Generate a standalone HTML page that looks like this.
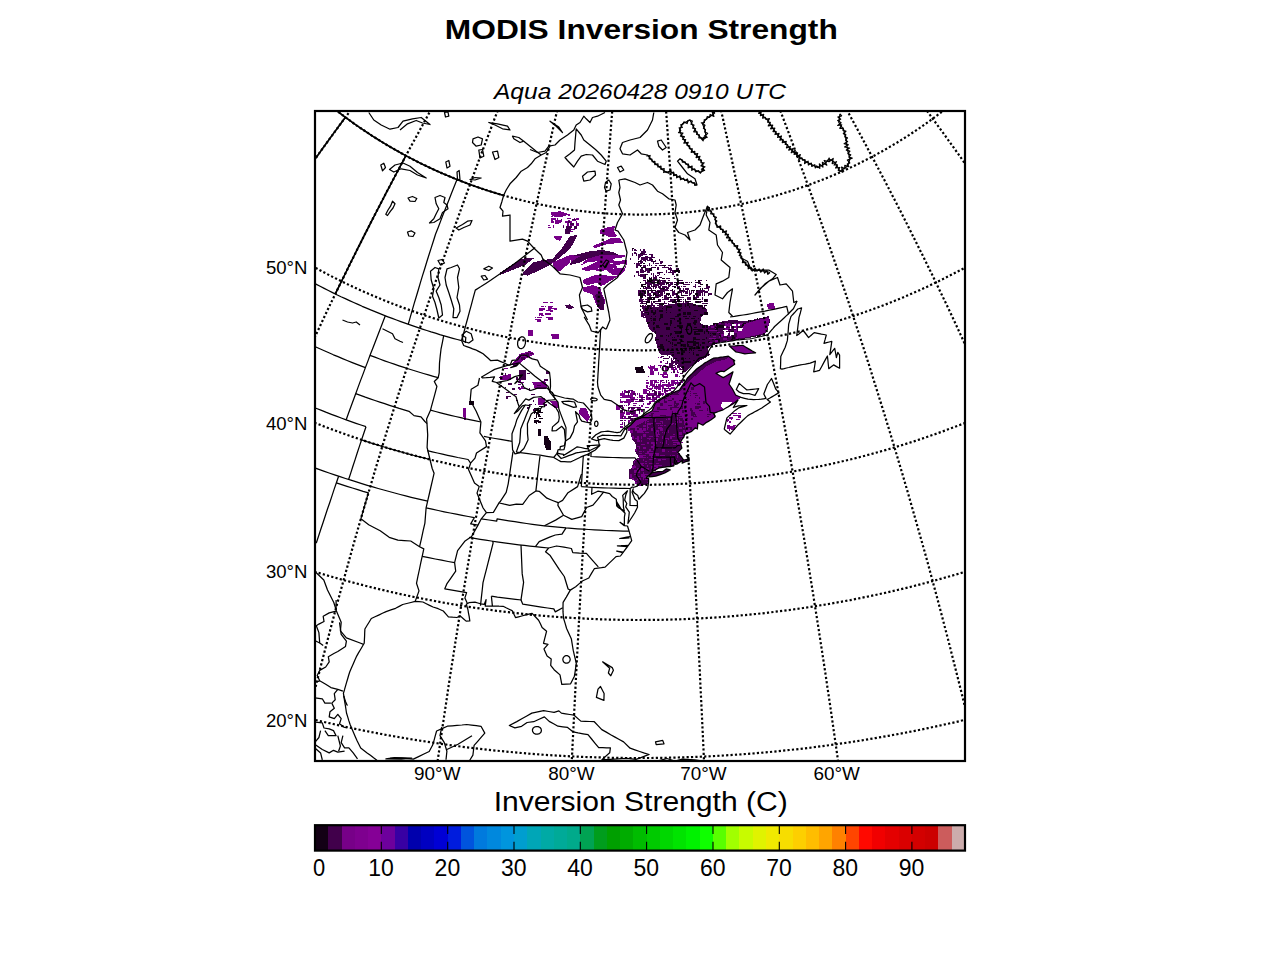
<!DOCTYPE html><html><head><meta charset="utf-8"><title>MODIS Inversion Strength</title><style>html,body{margin:0;padding:0;background:#fff}svg{display:block}text{font-family:"Liberation Sans",sans-serif;fill:#000}</style></head><body>
<svg width="1280" height="960" viewBox="0 0 1280 960">
<rect width="1280" height="960" fill="#fff"/>
<defs><clipPath id="ax"><rect x="315" y="111" width="650" height="650"/></clipPath></defs>
<g clip-path="url(#ax)">
<g stroke="none" shape-rendering="crispEdges">
<path fill="#770088" d="M630,430L631.9,438.8L636.3,445L635,451.3L638.8,457.5L633.8,460L631.9,467.5L628.8,470L629.4,478.8L633.8,480L636.3,483.8L638.8,486.5L648.3,484.1L648.6,482.1L648.6,478.4L646,478.3L648.6,475.3L650.6,474L653.1,471L656.6,469.2L659.6,467.8L667.7,466.7L670.1,466.7L673.9,465.8L674.5,459.9L675.4,464.4L677.4,463.8L679.4,462.4L682.3,460.4L682.2,463.2L685.6,461.7L689.1,460.9L688.9,457.2L686.3,455.7L688.5,459.2L683.5,459.9L681.9,457.5L677.8,452.4L681.9,448.1L680.4,442.5L682.4,438.7L683.8,437.3L684.6,434.5L691.7,431.4L695.4,427.8L697.4,429L697.9,422.9L702.9,425.2L705.6,422.9L711.1,419.8L715.2,416.7L713.9,413.2L723.1,409.8L732.9,403.9L738.1,399.8L741.1,397.4L735.6,395L732.5,389L729,384L733,371.9L723.2,377.6L715.9,373.3L721.1,371.1L723.9,371.7L734.7,364.2L733.2,359.6L734.7,360.8L728.3,356.2L713.4,358.2L705,362.8L696.6,369L687.7,377.7L679.4,390L673.5,392.7L661.3,399.2L655.3,403.3L652.2,410.8L647,413.5L641.3,417.6L635.6,419.6L630.8,424.9L625.9,428.2Z"/>
<path fill="#41004b" d="M648.6,477L655.7,476.2L664.8,473L670.2,469.9L666.2,468.9L662.7,471.5L658,471.6L652.1,472.6L650.6,474Z"/>
<path fill="#41004b" d="M630,430L631.9,438.8L636.3,445L635,451.3L638.8,457.5L633.8,460L631.9,467.5L628.8,470L629.4,478.8L633.8,480L636.3,483.8L638.8,486.5L648.3,484.1L648.6,482.1L648.6,478.4L646,478.3L648.6,475.3L650.6,474L653.1,471L656.6,469.2L659.6,467.8L667.7,466.7L670.1,466.7L673.9,465.8L674.5,459.9L675.4,464.4L677.4,463.8L679.4,462.4L682.3,460.4L682.2,463.2L685.6,461.7L689.1,460.9L688.9,457.2L686.3,455.7L688.5,459.2L683.5,459.9L681.9,457.5L677.8,452.4L681.9,448.1L680.4,442.5L682.4,438.7L685.9,431.1L683.3,419.1L678.1,411.3L671.7,417L654.2,417.5L644.2,421.6L632.7,428.3L625.9,428.2Z"/>
<path fill="#770088" d="M677.2,411.3h2.5v2.5h-2.5zM677.2,415.1h3.8v1.2h-3.8zM654.4,417h1.2v1.2h-1.2zM662,417h2.5v1.2h-2.5zM665.8,417h2.5v1.2h-2.5zM667.7,417h2.5v2.5h-2.5zM675.3,417h2.5v2.5h-2.5zM679.1,417h2.5v1.2h-2.5zM654.4,418.9h1.2v2.5h-1.2zM665.8,418.9h1.2v1.2h-1.2zM679.1,418.9h1.2v2.5h-1.2zM644.9,420.8h1.2v2.5h-1.2zM646.8,420.8h2.5v1.2h-2.5zM654.4,420.8h1.2v1.2h-1.2zM660.1,420.8h2.5v1.2h-2.5zM662,420.8h1.2v2.5h-1.2zM675.3,420.8h1.2v1.2h-1.2zM677.2,420.8h1.2v2.5h-1.2zM679.1,420.8h2.5v2.5h-2.5zM644.9,422.7h1.2v1.2h-1.2zM646.8,422.7h3.8v2.5h-3.8zM648.7,422.7h3.8v1.2h-3.8zM656.3,422.7h3.8v1.2h-3.8zM660.1,422.7h1.2v1.2h-1.2zM662,422.7h1.2v1.2h-1.2zM669.6,422.7h3.8v2.5h-3.8zM671.5,422.7h2.5v1.2h-2.5zM675.3,422.7h1.2v2.5h-1.2zM643,424.6h2.5v2.5h-2.5zM646.8,424.6h1.2v2.5h-1.2zM658.2,424.6h1.2v1.2h-1.2zM660.1,424.6h2.5v1.2h-2.5zM663.9,424.6h2.5v1.2h-2.5zM633.5,426.5h3.8v1.2h-3.8zM637.3,426.5h1.2v1.2h-1.2zM646.8,426.5h2.5v1.2h-2.5zM652.5,426.5h1.2v1.2h-1.2zM658.2,426.5h3.8v2.5h-3.8zM660.1,426.5h1.2v1.2h-1.2zM679.1,426.5h2.5v2.5h-2.5zM682.9,426.5h1.2v1.2h-1.2zM627.8,428.4h2.5v2.5h-2.5zM635.4,428.4h1.2v2.5h-1.2zM639.2,428.4h2.5v2.5h-2.5zM641.1,428.4h1.2v1.2h-1.2zM643,428.4h2.5v2.5h-2.5zM646.8,428.4h1.2v1.2h-1.2zM650.6,428.4h2.5v2.5h-2.5zM660.1,428.4h2.5v2.5h-2.5zM677.2,428.4h1.2v2.5h-1.2zM629.7,430.3h2.5v2.5h-2.5zM631.6,430.3h1.2v2.5h-1.2zM637.3,430.3h2.5v2.5h-2.5zM639.2,430.3h3.8v1.2h-3.8zM656.3,430.3h2.5v1.2h-2.5zM658.2,430.3h1.2v1.2h-1.2zM667.7,430.3h1.2v2.5h-1.2zM682.9,430.3h2.5v2.5h-2.5zM637.3,432.2h3.8v1.2h-3.8zM641.1,432.2h2.5v1.2h-2.5zM644.9,432.2h3.8v1.2h-3.8zM654.4,432.2h2.5v2.5h-2.5zM658.2,432.2h1.2v2.5h-1.2zM662,432.2h1.2v1.2h-1.2zM663.9,432.2h1.2v2.5h-1.2zM665.8,432.2h1.2v1.2h-1.2zM679.1,432.2h2.5v2.5h-2.5zM643,434.1h2.5v2.5h-2.5zM654.4,434.1h3.8v2.5h-3.8zM656.3,434.1h3.8v1.2h-3.8zM673.4,434.1h1.2v1.2h-1.2zM631.6,436h2.5v2.5h-2.5zM637.3,436h1.2v2.5h-1.2zM641.1,436h1.2v2.5h-1.2zM648.7,436h3.8v1.2h-3.8zM658.2,436h1.2v1.2h-1.2zM662,436h1.2v2.5h-1.2zM669.6,436h2.5v2.5h-2.5zM671.5,436h3.8v1.2h-3.8zM679.1,436h3.8v1.2h-3.8zM635.4,437.9h2.5v1.2h-2.5zM637.3,437.9h1.2v2.5h-1.2zM646.8,437.9h3.8v1.2h-3.8zM648.7,437.9h1.2v2.5h-1.2zM654.4,437.9h1.2v1.2h-1.2zM656.3,437.9h1.2v2.5h-1.2zM663.9,437.9h3.8v1.2h-3.8zM667.7,437.9h1.2v2.5h-1.2zM681,437.9h1.2v1.2h-1.2zM637.3,439.8h2.5v2.5h-2.5zM639.2,439.8h1.2v1.2h-1.2zM641.1,439.8h1.2v2.5h-1.2zM656.3,439.8h1.2v1.2h-1.2zM665.8,439.8h1.2v2.5h-1.2zM671.5,439.8h3.8v1.2h-3.8zM675.3,439.8h2.5v1.2h-2.5zM679.1,439.8h2.5v1.2h-2.5zM646.8,441.7h2.5v2.5h-2.5zM650.6,441.7h3.8v2.5h-3.8zM654.4,441.7h2.5v2.5h-2.5zM660.1,441.7h1.2v1.2h-1.2zM662,441.7h1.2v2.5h-1.2zM665.8,441.7h1.2v2.5h-1.2zM673.4,441.7h3.8v1.2h-3.8zM677.2,441.7h2.5v2.5h-2.5zM679.1,441.7h3.8v1.2h-3.8zM641.1,443.6h3.8v1.2h-3.8zM652.5,443.6h2.5v2.5h-2.5zM667.7,443.6h1.2v1.2h-1.2zM673.4,443.6h2.5v1.2h-2.5zM677.2,443.6h3.8v1.2h-3.8zM637.3,445.5h2.5v1.2h-2.5zM650.6,445.5h3.8v2.5h-3.8zM675.3,445.5h1.2v1.2h-1.2zM639.2,447.4h1.2v1.2h-1.2zM643,447.4h2.5v1.2h-2.5zM652.5,447.4h1.2v2.5h-1.2zM658.2,447.4h2.5v1.2h-2.5zM671.5,447.4h1.2v1.2h-1.2zM635.4,449.3h1.2v1.2h-1.2zM648.7,449.3h2.5v2.5h-2.5zM662,449.3h2.5v2.5h-2.5zM663.9,449.3h1.2v1.2h-1.2zM639.2,451.2h2.5v1.2h-2.5zM643,451.2h1.2v1.2h-1.2zM646.8,451.2h2.5v2.5h-2.5zM648.7,451.2h3.8v1.2h-3.8zM667.7,451.2h1.2v1.2h-1.2zM671.5,451.2h1.2v1.2h-1.2zM673.4,451.2h2.5v1.2h-2.5zM639.2,453.1h2.5v1.2h-2.5zM641.1,453.1h1.2v1.2h-1.2zM644.9,453.1h2.5v1.2h-2.5zM648.7,453.1h3.8v2.5h-3.8zM652.5,453.1h2.5v1.2h-2.5zM654.4,453.1h3.8v1.2h-3.8zM656.3,453.1h2.5v2.5h-2.5zM677.2,453.1h2.5v1.2h-2.5zM639.2,455h3.8v2.5h-3.8zM641.1,455h2.5v1.2h-2.5zM643,455h2.5v1.2h-2.5zM650.6,455h1.2v2.5h-1.2zM660.1,455h3.8v1.2h-3.8zM663.9,455h1.2v1.2h-1.2zM669.6,455h1.2v1.2h-1.2zM671.5,455h3.8v1.2h-3.8zM677.2,455h1.2v2.5h-1.2zM641.1,456.9h2.5v1.2h-2.5zM643,456.9h2.5v1.2h-2.5zM646.8,456.9h1.2v1.2h-1.2zM650.6,456.9h2.5v1.2h-2.5zM652.5,456.9h1.2v1.2h-1.2zM654.4,456.9h1.2v2.5h-1.2zM662,456.9h2.5v1.2h-2.5zM663.9,456.9h2.5v1.2h-2.5zM635.4,458.8h1.2v2.5h-1.2zM637.3,458.8h1.2v1.2h-1.2zM643,458.8h1.2v2.5h-1.2zM648.7,458.8h3.8v1.2h-3.8zM658.2,458.8h2.5v2.5h-2.5zM662,458.8h3.8v1.2h-3.8zM675.3,458.8h1.2v2.5h-1.2zM684.8,458.8h3.8v1.2h-3.8zM633.5,460.7h1.2v2.5h-1.2zM644.9,460.7h2.5v1.2h-2.5zM677.2,460.7h2.5v1.2h-2.5zM679.1,460.7h1.2v1.2h-1.2zM639.2,462.6h3.8v2.5h-3.8zM641.1,462.6h2.5v1.2h-2.5zM644.9,462.6h2.5v1.2h-2.5zM648.7,462.6h3.8v1.2h-3.8zM652.5,462.6h1.2v2.5h-1.2zM656.3,462.6h2.5v1.2h-2.5zM671.5,462.6h2.5v2.5h-2.5zM633.5,464.5h1.2v1.2h-1.2zM641.1,464.5h2.5v1.2h-2.5zM646.8,464.5h1.2v2.5h-1.2zM654.4,464.5h3.8v2.5h-3.8zM658.2,464.5h3.8v1.2h-3.8zM631.6,466.4h2.5v2.5h-2.5zM633.5,466.4h2.5v1.2h-2.5zM650.6,466.4h2.5v2.5h-2.5zM656.3,466.4h1.2v1.2h-1.2zM637.3,468.3h1.2v1.2h-1.2zM641.1,468.3h2.5v2.5h-2.5zM644.9,468.3h3.8v1.2h-3.8zM654.4,468.3h1.2v2.5h-1.2zM633.5,470.2h2.5v2.5h-2.5zM635.4,470.2h1.2v2.5h-1.2zM639.2,470.2h1.2v2.5h-1.2zM637.3,472.1h1.2v1.2h-1.2zM643,472.1h1.2v2.5h-1.2zM629.7,474h2.5v2.5h-2.5zM633.5,474h2.5v1.2h-2.5zM641.1,474h3.8v2.5h-3.8zM644.9,474h3.8v1.2h-3.8zM629.7,475.9h2.5v2.5h-2.5zM637.3,475.9h2.5v1.2h-2.5zM643,475.9h2.5v2.5h-2.5zM631.6,477.8h2.5v2.5h-2.5zM637.3,477.8h3.8v2.5h-3.8zM643,477.8h1.2v2.5h-1.2zM644.9,477.8h3.8v2.5h-3.8zM646.8,477.8h2.5v2.5h-2.5zM633.5,479.7h3.8v1.2h-3.8zM635.4,481.6h1.2v2.5h-1.2zM646.8,481.6h2.5v1.2h-2.5zM637.3,483.5h3.8v2.5h-3.8z"/>
<path fill="#41004b" d="M691.4,387.3h2.5v2.5h-2.5zM687.6,391.1h1.2v1.2h-1.2zM689.5,391.1h1.2v1.2h-1.2zM685.7,393h1.2v1.2h-1.2zM689.5,393h1.2v1.2h-1.2zM693.3,393h3.8v1.2h-3.8zM689.5,394.9h1.2v1.2h-1.2zM695.2,394.9h2.5v1.2h-2.5zM685.7,396.8h1.2v1.2h-1.2zM695.2,396.8h1.2v1.2h-1.2zM699,396.8h1.2v2.5h-1.2zM685.7,398.7h1.2v1.2h-1.2zM687.6,398.7h1.2v1.2h-1.2zM683.8,400.6h2.5v1.2h-2.5zM685.7,400.6h1.2v2.5h-1.2zM699,400.6h1.2v1.2h-1.2zM702.8,400.6h2.5v2.5h-2.5zM695.2,402.5h1.2v1.2h-1.2zM697.1,402.5h2.5v2.5h-2.5zM702.8,402.5h2.5v1.2h-2.5zM681.9,406.3h1.2v1.2h-1.2zM683.8,406.3h2.5v2.5h-2.5zM695.2,406.3h3.8v2.5h-3.8zM697.1,406.3h3.8v1.2h-3.8zM680,408.2h2.5v1.2h-2.5zM689.5,408.2h2.5v2.5h-2.5zM706.6,408.2h1.2v2.5h-1.2zM681.9,410.1h2.5v2.5h-2.5zM691.4,410.1h1.2v2.5h-1.2zM699,410.1h3.8v1.2h-3.8zM681.9,412h1.2v1.2h-1.2zM691.4,412h3.8v2.5h-3.8zM685.7,413.9h2.5v2.5h-2.5zM691.4,413.9h2.5v2.5h-2.5zM695.2,413.9h1.2v2.5h-1.2zM706.6,413.9h3.8v1.2h-3.8zM708.5,413.9h2.5v1.2h-2.5zM693.3,415.8h3.8v1.2h-3.8zM706.6,415.8h2.5v1.2h-2.5zM685.7,417.7h2.5v1.2h-2.5zM691.4,417.7h1.2v2.5h-1.2zM685.7,421.5h1.2v1.2h-1.2zM685.7,427.2h3.8v1.2h-3.8zM687.6,427.2h3.8v1.2h-3.8zM689.5,427.2h2.5v2.5h-2.5z"/>
<path fill="#41004b" d="M669.8,393.8h3.8v1.2h-3.8zM673.6,393.8h2.5v1.2h-2.5zM677.4,393.8h1.2v1.2h-1.2zM666,395.7h2.5v1.2h-2.5zM669.8,395.7h1.2v1.2h-1.2zM664.1,397.6h2.5v2.5h-2.5zM671.7,397.6h2.5v2.5h-2.5zM664.1,399.5h1.2v2.5h-1.2zM667.9,399.5h3.8v1.2h-3.8zM679.3,399.5h3.8v1.2h-3.8zM658.4,401.4h1.2v1.2h-1.2zM664.1,401.4h2.5v1.2h-2.5zM673.6,401.4h2.5v2.5h-2.5zM660.3,403.3h2.5v2.5h-2.5zM673.6,403.3h1.2v1.2h-1.2zM675.5,403.3h3.8v1.2h-3.8zM667.9,405.2h3.8v1.2h-3.8zM669.8,405.2h2.5v1.2h-2.5zM673.6,405.2h3.8v2.5h-3.8zM675.5,405.2h2.5v1.2h-2.5zM656.5,407.1h3.8v2.5h-3.8zM669.8,407.1h2.5v2.5h-2.5zM671.7,407.1h3.8v1.2h-3.8zM677.4,407.1h1.2v1.2h-1.2zM660.3,409h3.8v1.2h-3.8zM664.1,409h2.5v1.2h-2.5zM652.7,410.9h3.8v1.2h-3.8zM656.5,410.9h2.5v1.2h-2.5zM671.7,410.9h1.2v2.5h-1.2zM650.8,412.8h2.5v2.5h-2.5zM652.7,412.8h1.2v1.2h-1.2zM648.9,414.7h2.5v1.2h-2.5zM650.8,414.7h2.5v2.5h-2.5zM660.3,414.7h2.5v1.2h-2.5zM662.2,414.7h3.8v1.2h-3.8zM645.1,416.6h3.8v1.2h-3.8zM647,416.6h2.5v1.2h-2.5z"/>
<path fill="#41004b" d="M728.3,356.2L713.4,358.2L705,362.8L696.6,369L687.7,377.7L679.4,390L673.5,392.7L676.4,395.2L684.2,386.7L691,379.5L699.5,372.1L707.1,366L714.7,361.9L726.9,359.1Z"/>
<path fill="#fff" d="M673.9,392.2L679.3,389.4L687.7,377L696.5,368.3L704.9,362.2L713.3,357.5L728.2,355.5L735.2,354.6L737.7,340.6L712.8,344.4L705.6,356.7L698.8,358.6L686.2,374L679.5,384.1L674.4,391.3Z"/>
<path fill="#41004b" d="M641.2,306.2L657.5,306.9L672.5,303.8L685,302.5L695,305L705,306.9L707.5,311.2L701.2,317.5L700,323.1L707.5,326.2L722.5,321.2L732.5,320L745,321.2L757.5,318.8L768.8,316.2L770,321.2L767.5,330L763.8,335L751.2,337.5L736.2,340L720,342.5L710,346.2L707.5,350L710,355L701.2,360L690,367.5L685,372.5L680,366.2L675,360L670,355L661.2,355L657.5,347.5L655,338.8L656.2,333.8L650,330L646.2,321.2L645,315Z"/>
<path fill="#130015" d="M677.3,302.5h2.5v1.2h-2.5zM686.8,302.5h3.8v1.2h-3.8zM677.3,304.4h2.5v1.2h-2.5zM679.2,304.4h2.5v2.5h-2.5zM684.9,304.4h1.2v2.5h-1.2zM686.8,304.4h2.5v1.2h-2.5zM692.5,304.4h1.2v1.2h-1.2zM694.4,304.4h1.2v1.2h-1.2zM646.9,306.3h2.5v2.5h-2.5zM665.9,306.3h2.5v1.2h-2.5zM667.8,306.3h3.8v1.2h-3.8zM688.7,306.3h1.2v1.2h-1.2zM702,306.3h1.2v1.2h-1.2zM645,308.2h2.5v2.5h-2.5zM650.7,308.2h1.2v1.2h-1.2zM662.1,308.2h1.2v1.2h-1.2zM665.9,308.2h1.2v2.5h-1.2zM681.1,308.2h1.2v1.2h-1.2zM702,308.2h3.8v1.2h-3.8zM694.4,310.1h3.8v1.2h-3.8zM645,312h2.5v1.2h-2.5zM646.9,312h2.5v2.5h-2.5zM652.6,312h2.5v2.5h-2.5zM665.9,312h1.2v1.2h-1.2zM669.7,312h1.2v1.2h-1.2zM683,312h2.5v2.5h-2.5zM686.8,312h3.8v2.5h-3.8zM688.7,312h2.5v2.5h-2.5zM703.9,312h3.8v2.5h-3.8zM646.9,313.9h2.5v1.2h-2.5zM660.2,313.9h2.5v2.5h-2.5zM677.3,313.9h1.2v2.5h-1.2zM700.1,313.9h2.5v2.5h-2.5zM650.7,315.8h1.2v1.2h-1.2zM660.2,315.8h2.5v2.5h-2.5zM662.1,315.8h1.2v1.2h-1.2zM675.4,315.8h1.2v1.2h-1.2zM677.3,315.8h1.2v1.2h-1.2zM683,315.8h3.8v1.2h-3.8zM688.7,315.8h1.2v1.2h-1.2zM692.5,315.8h3.8v1.2h-3.8zM694.4,315.8h1.2v1.2h-1.2zM660.2,317.7h1.2v1.2h-1.2zM669.7,317.7h3.8v1.2h-3.8zM673.5,317.7h1.2v2.5h-1.2zM684.9,317.7h3.8v1.2h-3.8zM690.6,317.7h2.5v1.2h-2.5zM692.5,317.7h2.5v1.2h-2.5zM698.2,317.7h1.2v1.2h-1.2zM757.1,317.7h1.2v2.5h-1.2zM650.7,319.6h1.2v1.2h-1.2zM669.7,319.6h2.5v2.5h-2.5zM677.3,319.6h3.8v2.5h-3.8zM694.4,319.6h2.5v2.5h-2.5zM747.6,319.6h1.2v2.5h-1.2zM749.5,319.6h1.2v2.5h-1.2zM753.3,319.6h1.2v1.2h-1.2zM760.9,319.6h2.5v1.2h-2.5zM646.9,321.5h2.5v2.5h-2.5zM648.8,321.5h1.2v1.2h-1.2zM652.6,321.5h2.5v2.5h-2.5zM669.7,321.5h2.5v2.5h-2.5zM692.5,321.5h1.2v2.5h-1.2zM694.4,321.5h2.5v1.2h-2.5zM721,321.5h2.5v1.2h-2.5zM759,321.5h3.8v1.2h-3.8zM768.5,321.5h1.2v1.2h-1.2zM652.6,323.4h1.2v1.2h-1.2zM664,323.4h3.8v1.2h-3.8zM665.9,323.4h1.2v1.2h-1.2zM669.7,323.4h1.2v2.5h-1.2zM686.8,323.4h2.5v1.2h-2.5zM688.7,323.4h2.5v1.2h-2.5zM694.4,323.4h1.2v1.2h-1.2zM700.1,323.4h1.2v1.2h-1.2zM713.4,323.4h1.2v1.2h-1.2zM715.3,323.4h2.5v2.5h-2.5zM732.4,323.4h2.5v2.5h-2.5zM741.9,323.4h3.8v1.2h-3.8zM757.1,323.4h1.2v2.5h-1.2zM762.8,323.4h3.8v2.5h-3.8zM656.4,325.3h2.5v2.5h-2.5zM677.3,325.3h1.2v1.2h-1.2zM679.2,325.3h3.8v2.5h-3.8zM702,325.3h2.5v2.5h-2.5zM705.8,325.3h2.5v2.5h-2.5zM717.2,325.3h2.5v2.5h-2.5zM719.1,325.3h2.5v2.5h-2.5zM721,325.3h2.5v2.5h-2.5zM728.6,325.3h1.2v1.2h-1.2zM732.4,325.3h2.5v2.5h-2.5zM741.9,325.3h3.8v1.2h-3.8zM759,325.3h2.5v1.2h-2.5zM652.6,327.2h2.5v2.5h-2.5zM658.3,327.2h1.2v1.2h-1.2zM665.9,327.2h2.5v2.5h-2.5zM667.8,327.2h2.5v2.5h-2.5zM673.5,327.2h2.5v1.2h-2.5zM681.1,327.2h1.2v2.5h-1.2zM694.4,327.2h2.5v1.2h-2.5zM715.3,327.2h2.5v2.5h-2.5zM717.2,327.2h3.8v1.2h-3.8zM719.1,327.2h3.8v1.2h-3.8zM740,327.2h2.5v1.2h-2.5zM743.8,327.2h3.8v2.5h-3.8zM681.1,329.1h1.2v2.5h-1.2zM684.9,329.1h3.8v1.2h-3.8zM686.8,329.1h2.5v1.2h-2.5zM692.5,329.1h3.8v1.2h-3.8zM696.3,329.1h2.5v1.2h-2.5zM698.2,329.1h3.8v2.5h-3.8zM700.1,329.1h2.5v2.5h-2.5zM705.8,329.1h2.5v2.5h-2.5zM722.9,329.1h1.2v1.2h-1.2zM728.6,329.1h2.5v1.2h-2.5zM753.3,329.1h2.5v2.5h-2.5zM757.1,329.1h1.2v1.2h-1.2zM760.9,329.1h1.2v2.5h-1.2zM762.8,329.1h2.5v1.2h-2.5zM764.7,329.1h1.2v2.5h-1.2zM654.5,331h1.2v2.5h-1.2zM673.5,331h3.8v1.2h-3.8zM675.4,331h2.5v2.5h-2.5zM677.3,331h3.8v2.5h-3.8zM694.4,331h1.2v2.5h-1.2zM696.3,331h3.8v1.2h-3.8zM703.9,331h1.2v2.5h-1.2zM705.8,331h2.5v1.2h-2.5zM707.7,331h1.2v2.5h-1.2zM717.2,331h1.2v1.2h-1.2zM724.8,331h1.2v2.5h-1.2zM728.6,331h1.2v1.2h-1.2zM730.5,331h1.2v1.2h-1.2zM732.4,331h1.2v2.5h-1.2zM753.3,331h2.5v2.5h-2.5zM669.7,332.9h2.5v2.5h-2.5zM686.8,332.9h2.5v1.2h-2.5zM688.7,332.9h1.2v1.2h-1.2zM694.4,332.9h1.2v2.5h-1.2zM696.3,332.9h3.8v2.5h-3.8zM709.6,332.9h1.2v1.2h-1.2zM711.5,332.9h1.2v1.2h-1.2zM713.4,332.9h2.5v2.5h-2.5zM719.1,332.9h1.2v1.2h-1.2zM751.4,332.9h2.5v2.5h-2.5zM762.8,332.9h2.5v2.5h-2.5zM660.2,334.8h2.5v2.5h-2.5zM665.9,334.8h1.2v1.2h-1.2zM667.8,334.8h1.2v2.5h-1.2zM669.7,334.8h1.2v1.2h-1.2zM677.3,334.8h1.2v2.5h-1.2zM681.1,334.8h2.5v2.5h-2.5zM709.6,334.8h1.2v1.2h-1.2zM719.1,334.8h2.5v2.5h-2.5zM732.4,334.8h1.2v2.5h-1.2zM741.9,334.8h2.5v1.2h-2.5zM751.4,334.8h2.5v2.5h-2.5zM757.1,334.8h2.5v2.5h-2.5zM671.6,336.7h1.2v1.2h-1.2zM673.5,336.7h1.2v1.2h-1.2zM681.1,336.7h2.5v1.2h-2.5zM692.5,336.7h3.8v2.5h-3.8zM705.8,336.7h1.2v2.5h-1.2zM726.7,336.7h1.2v1.2h-1.2zM732.4,336.7h2.5v2.5h-2.5zM736.2,336.7h2.5v1.2h-2.5zM654.5,338.6h1.2v2.5h-1.2zM656.4,338.6h2.5v1.2h-2.5zM665.9,338.6h1.2v2.5h-1.2zM671.6,338.6h3.8v2.5h-3.8zM675.4,338.6h1.2v2.5h-1.2zM679.2,338.6h2.5v1.2h-2.5zM692.5,338.6h1.2v2.5h-1.2zM694.4,338.6h1.2v1.2h-1.2zM696.3,338.6h3.8v1.2h-3.8zM702,338.6h2.5v1.2h-2.5zM711.5,338.6h2.5v1.2h-2.5zM715.3,338.6h2.5v2.5h-2.5zM717.2,338.6h2.5v2.5h-2.5zM730.5,338.6h2.5v1.2h-2.5zM736.2,338.6h2.5v1.2h-2.5zM667.8,340.5h2.5v1.2h-2.5zM681.1,340.5h2.5v1.2h-2.5zM686.8,340.5h3.8v2.5h-3.8zM690.6,340.5h3.8v2.5h-3.8zM694.4,340.5h1.2v2.5h-1.2zM707.7,340.5h2.5v2.5h-2.5zM717.2,340.5h2.5v1.2h-2.5zM724.8,340.5h1.2v1.2h-1.2zM669.7,342.4h1.2v1.2h-1.2zM671.6,342.4h1.2v2.5h-1.2zM677.3,342.4h3.8v1.2h-3.8zM686.8,342.4h1.2v1.2h-1.2zM692.5,342.4h3.8v1.2h-3.8zM696.3,342.4h1.2v1.2h-1.2zM698.2,342.4h1.2v1.2h-1.2zM702,342.4h2.5v1.2h-2.5zM713.4,342.4h3.8v1.2h-3.8zM660.2,344.3h2.5v1.2h-2.5zM673.5,344.3h3.8v1.2h-3.8zM681.1,344.3h1.2v1.2h-1.2zM683,344.3h2.5v2.5h-2.5zM686.8,344.3h2.5v2.5h-2.5zM692.5,344.3h3.8v1.2h-3.8zM698.2,344.3h1.2v2.5h-1.2zM700.1,344.3h1.2v1.2h-1.2zM658.3,346.2h3.8v1.2h-3.8zM660.2,346.2h3.8v2.5h-3.8zM671.6,346.2h1.2v1.2h-1.2zM683,346.2h2.5v1.2h-2.5zM684.9,346.2h1.2v1.2h-1.2zM688.7,346.2h3.8v1.2h-3.8zM690.6,346.2h2.5v2.5h-2.5zM696.3,346.2h2.5v2.5h-2.5zM683,348.1h3.8v1.2h-3.8zM690.6,348.1h1.2v2.5h-1.2zM692.5,348.1h1.2v1.2h-1.2zM665.9,350h2.5v1.2h-2.5zM669.7,350h2.5v1.2h-2.5zM671.6,350h2.5v1.2h-2.5zM677.3,350h1.2v1.2h-1.2zM681.1,350h3.8v2.5h-3.8zM683,350h2.5v1.2h-2.5zM684.9,350h2.5v1.2h-2.5zM688.7,350h1.2v1.2h-1.2zM692.5,350h1.2v1.2h-1.2zM698.2,350h3.8v1.2h-3.8zM660.2,351.9h2.5v1.2h-2.5zM669.7,351.9h3.8v1.2h-3.8zM677.3,351.9h2.5v2.5h-2.5zM688.7,351.9h1.2v1.2h-1.2zM692.5,351.9h1.2v2.5h-1.2zM671.6,353.8h2.5v2.5h-2.5zM692.5,353.8h1.2v1.2h-1.2zM696.3,353.8h2.5v2.5h-2.5zM707.7,353.8h1.2v2.5h-1.2zM673.5,357.6h3.8v1.2h-3.8zM681.1,357.6h2.5v2.5h-2.5zM684.9,357.6h1.2v1.2h-1.2zM688.7,357.6h1.2v1.2h-1.2zM677.3,359.5h1.2v2.5h-1.2zM683,359.5h1.2v2.5h-1.2zM692.5,359.5h2.5v1.2h-2.5zM683,361.4h3.8v1.2h-3.8zM686.8,361.4h2.5v1.2h-2.5zM688.7,361.4h2.5v1.2h-2.5zM679.2,365.2h1.2v1.2h-1.2zM683,367.1h1.2v2.5h-1.2z"/>
<path fill="#770088" d="M737.5,332.5L745,323.8L757.5,320L768.8,317.5L769.4,322.5L766.2,332.5L757.5,335L745,337.5L736.2,338.8Z"/>
<path fill="#770088" d="M718.9,322.5h2.5v1.2h-2.5zM724.6,322.5h2.5v1.2h-2.5zM728.4,322.5h1.2v1.2h-1.2zM734.1,322.5h2.5v1.2h-2.5zM737.9,322.5h3.8v2.5h-3.8zM741.7,322.5h1.2v1.2h-1.2zM715.1,324.4h1.2v1.2h-1.2zM724.6,324.4h2.5v2.5h-2.5zM726.5,324.4h1.2v1.2h-1.2zM728.4,324.4h2.5v2.5h-2.5zM736,324.4h2.5v1.2h-2.5zM707.5,326.3h1.2v1.2h-1.2zM711.3,326.3h2.5v1.2h-2.5zM724.6,326.3h1.2v2.5h-1.2zM734.1,326.3h2.5v1.2h-2.5zM736,326.3h1.2v1.2h-1.2zM715.1,328.2h1.2v1.2h-1.2zM724.6,328.2h3.8v2.5h-3.8zM728.4,328.2h3.8v1.2h-3.8zM736,328.2h1.2v2.5h-1.2zM707.5,330.1h2.5v1.2h-2.5zM709.4,330.1h2.5v1.2h-2.5zM711.3,330.1h2.5v1.2h-2.5zM713.2,330.1h3.8v1.2h-3.8zM724.6,330.1h2.5v1.2h-2.5zM726.5,330.1h3.8v1.2h-3.8zM734.1,330.1h2.5v2.5h-2.5zM717,332h2.5v1.2h-2.5zM722.7,332h2.5v1.2h-2.5zM726.5,332h3.8v1.2h-3.8zM730.3,332h2.5v2.5h-2.5zM720.8,333.9h2.5v2.5h-2.5zM722.7,333.9h1.2v2.5h-1.2zM724.6,333.9h3.8v2.5h-3.8zM713.2,335.8h2.5v1.2h-2.5zM715.1,335.8h1.2v1.2h-1.2zM718.9,335.8h1.2v2.5h-1.2zM720.8,335.8h2.5v1.2h-2.5zM728.4,335.8h2.5v1.2h-2.5zM709.4,337.7h3.8v1.2h-3.8zM713.2,337.7h2.5v1.2h-2.5zM722.7,337.7h3.8v2.5h-3.8zM715.1,339.6h2.5v2.5h-2.5zM726.5,339.6h2.5v2.5h-2.5zM728.4,339.6h1.2v1.2h-1.2zM709.4,341.5h2.5v1.2h-2.5zM715.1,341.5h2.5v1.2h-2.5zM717,341.5h2.5v1.2h-2.5z"/>
<path fill="#fff" d="M732,324.4h3.8v1.2h-3.8zM737.7,324.4h2.5v1.2h-2.5zM724.4,326.3h1.2v1.2h-1.2zM730.1,326.3h1.2v2.5h-1.2zM733.9,328.2h2.5v1.2h-2.5zM737.7,328.2h3.8v2.5h-3.8zM739.6,328.2h3.8v1.2h-3.8zM722.5,330.1h2.5v1.2h-2.5zM724.4,330.1h1.2v2.5h-1.2zM726.3,330.1h1.2v1.2h-1.2zM724.4,332h3.8v2.5h-3.8zM726.3,332h2.5v1.2h-2.5zM730.1,332h3.8v2.5h-3.8zM724.4,333.9h2.5v2.5h-2.5zM730.1,333.9h1.2v2.5h-1.2z"/>
<path fill="#41004b" d="M648.9,280h3.8v1.2h-3.8zM650.8,280h2.5v2.5h-2.5zM652.7,280h1.2v2.5h-1.2zM654.6,280h3.8v1.2h-3.8zM662.2,280h3.8v2.5h-3.8zM664.1,280h1.2v1.2h-1.2zM667.9,280h2.5v1.2h-2.5zM677.4,280h3.8v1.2h-3.8zM679.3,280h3.8v1.2h-3.8zM694.5,280h1.2v1.2h-1.2zM698.3,280h3.8v1.2h-3.8zM705.9,280h1.2v1.2h-1.2zM645.1,281.9h3.8v2.5h-3.8zM650.8,281.9h2.5v2.5h-2.5zM656.5,281.9h1.2v1.2h-1.2zM662.2,281.9h2.5v2.5h-2.5zM667.9,281.9h2.5v1.2h-2.5zM669.8,281.9h2.5v1.2h-2.5zM671.7,281.9h1.2v2.5h-1.2zM673.6,281.9h2.5v1.2h-2.5zM677.4,281.9h2.5v1.2h-2.5zM679.3,281.9h2.5v2.5h-2.5zM681.2,281.9h1.2v2.5h-1.2zM685,281.9h2.5v1.2h-2.5zM688.8,281.9h1.2v1.2h-1.2zM690.7,281.9h1.2v1.2h-1.2zM694.5,281.9h3.8v1.2h-3.8zM696.4,281.9h1.2v1.2h-1.2zM698.3,281.9h2.5v2.5h-2.5zM647,283.8h2.5v2.5h-2.5zM648.9,283.8h2.5v1.2h-2.5zM650.8,283.8h1.2v2.5h-1.2zM652.7,283.8h2.5v2.5h-2.5zM654.6,283.8h1.2v2.5h-1.2zM656.5,283.8h1.2v1.2h-1.2zM660.3,283.8h1.2v2.5h-1.2zM662.2,283.8h2.5v1.2h-2.5zM667.9,283.8h2.5v2.5h-2.5zM671.7,283.8h1.2v1.2h-1.2zM683.1,283.8h3.8v1.2h-3.8zM685,283.8h3.8v1.2h-3.8zM688.8,283.8h1.2v1.2h-1.2zM694.5,283.8h1.2v2.5h-1.2zM641.3,285.7h2.5v1.2h-2.5zM650.8,285.7h3.8v1.2h-3.8zM652.7,285.7h2.5v1.2h-2.5zM654.6,285.7h1.2v1.2h-1.2zM658.4,285.7h2.5v2.5h-2.5zM664.1,285.7h2.5v1.2h-2.5zM667.9,285.7h2.5v1.2h-2.5zM671.7,285.7h2.5v1.2h-2.5zM677.4,285.7h2.5v1.2h-2.5zM681.2,285.7h1.2v1.2h-1.2zM683.1,285.7h2.5v1.2h-2.5zM692.6,285.7h3.8v1.2h-3.8zM694.5,285.7h1.2v2.5h-1.2zM698.3,285.7h1.2v1.2h-1.2zM700.2,285.7h1.2v1.2h-1.2zM705.9,285.7h3.8v2.5h-3.8zM650.8,287.6h1.2v2.5h-1.2zM662.2,287.6h1.2v2.5h-1.2zM666,287.6h1.2v1.2h-1.2zM677.4,287.6h1.2v1.2h-1.2zM679.3,287.6h1.2v2.5h-1.2zM683.1,287.6h1.2v2.5h-1.2zM685,287.6h3.8v2.5h-3.8zM704,287.6h3.8v1.2h-3.8zM707.8,287.6h1.2v2.5h-1.2zM637.5,289.5h1.2v2.5h-1.2zM639.4,289.5h2.5v1.2h-2.5zM643.2,289.5h2.5v1.2h-2.5zM645.1,289.5h1.2v2.5h-1.2zM647,289.5h1.2v2.5h-1.2zM650.8,289.5h1.2v1.2h-1.2zM656.5,289.5h2.5v1.2h-2.5zM658.4,289.5h1.2v1.2h-1.2zM660.3,289.5h3.8v2.5h-3.8zM662.2,289.5h1.2v2.5h-1.2zM664.1,289.5h3.8v1.2h-3.8zM667.9,289.5h1.2v1.2h-1.2zM669.8,289.5h2.5v1.2h-2.5zM673.6,289.5h1.2v2.5h-1.2zM681.2,289.5h3.8v2.5h-3.8zM686.9,289.5h1.2v1.2h-1.2zM688.8,289.5h1.2v1.2h-1.2zM696.4,289.5h1.2v1.2h-1.2zM698.3,289.5h1.2v2.5h-1.2zM700.2,289.5h3.8v2.5h-3.8zM704,289.5h1.2v1.2h-1.2zM707.8,289.5h1.2v1.2h-1.2zM637.5,291.4h2.5v1.2h-2.5zM641.3,291.4h2.5v2.5h-2.5zM645.1,291.4h1.2v1.2h-1.2zM647,291.4h1.2v2.5h-1.2zM650.8,291.4h2.5v1.2h-2.5zM654.6,291.4h2.5v2.5h-2.5zM662.2,291.4h1.2v1.2h-1.2zM664.1,291.4h1.2v2.5h-1.2zM671.7,291.4h2.5v2.5h-2.5zM673.6,291.4h1.2v2.5h-1.2zM679.3,291.4h1.2v1.2h-1.2zM681.2,291.4h1.2v1.2h-1.2zM683.1,291.4h1.2v1.2h-1.2zM685,291.4h2.5v2.5h-2.5zM686.9,291.4h1.2v1.2h-1.2zM688.8,291.4h1.2v1.2h-1.2zM690.7,291.4h1.2v2.5h-1.2zM692.6,291.4h1.2v1.2h-1.2zM696.4,291.4h2.5v1.2h-2.5zM698.3,291.4h3.8v1.2h-3.8zM700.2,291.4h2.5v1.2h-2.5zM704,291.4h3.8v1.2h-3.8zM637.5,293.3h2.5v2.5h-2.5zM639.4,293.3h3.8v1.2h-3.8zM641.3,293.3h3.8v2.5h-3.8zM647,293.3h3.8v2.5h-3.8zM652.7,293.3h3.8v1.2h-3.8zM654.6,293.3h1.2v1.2h-1.2zM660.3,293.3h2.5v2.5h-2.5zM662.2,293.3h1.2v2.5h-1.2zM667.9,293.3h1.2v2.5h-1.2zM671.7,293.3h3.8v1.2h-3.8zM681.2,293.3h1.2v1.2h-1.2zM688.8,293.3h2.5v1.2h-2.5zM696.4,293.3h1.2v1.2h-1.2zM698.3,293.3h2.5v2.5h-2.5zM702.1,293.3h1.2v2.5h-1.2zM704,293.3h1.2v1.2h-1.2zM707.8,293.3h3.8v1.2h-3.8zM639.4,295.2h3.8v1.2h-3.8zM641.3,295.2h1.2v2.5h-1.2zM643.2,295.2h2.5v1.2h-2.5zM648.9,295.2h2.5v2.5h-2.5zM650.8,295.2h1.2v1.2h-1.2zM654.6,295.2h3.8v1.2h-3.8zM658.4,295.2h3.8v1.2h-3.8zM664.1,295.2h2.5v2.5h-2.5zM666,295.2h1.2v2.5h-1.2zM669.8,295.2h1.2v2.5h-1.2zM671.7,295.2h2.5v1.2h-2.5zM675.5,295.2h2.5v2.5h-2.5zM677.4,295.2h1.2v1.2h-1.2zM681.2,295.2h2.5v1.2h-2.5zM683.1,295.2h3.8v1.2h-3.8zM685,295.2h2.5v1.2h-2.5zM688.8,295.2h1.2v1.2h-1.2zM692.6,295.2h2.5v2.5h-2.5zM696.4,295.2h2.5v2.5h-2.5zM647,297.1h1.2v2.5h-1.2zM648.9,297.1h2.5v2.5h-2.5zM650.8,297.1h2.5v1.2h-2.5zM656.5,297.1h1.2v1.2h-1.2zM662.2,297.1h1.2v1.2h-1.2zM664.1,297.1h2.5v2.5h-2.5zM666,297.1h2.5v2.5h-2.5zM667.9,297.1h3.8v1.2h-3.8zM669.8,297.1h1.2v1.2h-1.2zM673.6,297.1h2.5v1.2h-2.5zM677.4,297.1h1.2v2.5h-1.2zM679.3,297.1h3.8v1.2h-3.8zM681.2,297.1h2.5v1.2h-2.5zM686.9,297.1h3.8v2.5h-3.8zM692.6,297.1h2.5v1.2h-2.5zM694.5,297.1h2.5v2.5h-2.5zM702.1,297.1h1.2v2.5h-1.2zM639.4,299h3.8v2.5h-3.8zM643.2,299h1.2v1.2h-1.2zM645.1,299h3.8v1.2h-3.8zM658.4,299h1.2v1.2h-1.2zM662.2,299h2.5v1.2h-2.5zM667.9,299h1.2v1.2h-1.2zM669.8,299h3.8v2.5h-3.8zM671.7,299h2.5v1.2h-2.5zM675.5,299h3.8v1.2h-3.8zM679.3,299h2.5v1.2h-2.5zM683.1,299h1.2v1.2h-1.2zM688.8,299h1.2v1.2h-1.2zM694.5,299h2.5v1.2h-2.5zM700.2,299h1.2v1.2h-1.2zM704,299h2.5v1.2h-2.5zM705.9,299h2.5v2.5h-2.5zM641.3,300.9h2.5v1.2h-2.5zM643.2,300.9h2.5v1.2h-2.5zM648.9,300.9h1.2v2.5h-1.2zM650.8,300.9h1.2v2.5h-1.2zM652.7,300.9h2.5v1.2h-2.5zM654.6,300.9h3.8v1.2h-3.8zM656.5,300.9h1.2v1.2h-1.2zM658.4,300.9h2.5v1.2h-2.5zM664.1,300.9h1.2v2.5h-1.2zM667.9,300.9h2.5v1.2h-2.5zM671.7,300.9h1.2v1.2h-1.2zM673.6,300.9h1.2v1.2h-1.2zM675.5,300.9h1.2v2.5h-1.2zM679.3,300.9h2.5v1.2h-2.5zM683.1,300.9h1.2v2.5h-1.2zM685,300.9h3.8v2.5h-3.8zM686.9,300.9h2.5v2.5h-2.5zM688.8,300.9h2.5v1.2h-2.5zM694.5,300.9h1.2v2.5h-1.2zM696.4,300.9h1.2v1.2h-1.2zM698.3,300.9h1.2v2.5h-1.2zM700.2,300.9h2.5v1.2h-2.5zM705.9,300.9h2.5v1.2h-2.5zM643.2,302.8h1.2v1.2h-1.2zM650.8,302.8h2.5v2.5h-2.5zM654.6,302.8h2.5v1.2h-2.5zM656.5,302.8h2.5v1.2h-2.5zM660.3,302.8h2.5v2.5h-2.5zM662.2,302.8h3.8v1.2h-3.8zM666,302.8h1.2v1.2h-1.2zM667.9,302.8h1.2v2.5h-1.2zM690.7,302.8h2.5v2.5h-2.5zM702.1,302.8h2.5v1.2h-2.5zM704,302.8h2.5v1.2h-2.5zM705.9,302.8h2.5v1.2h-2.5zM643.2,304.7h1.2v2.5h-1.2zM645.1,304.7h1.2v2.5h-1.2zM650.8,304.7h2.5v1.2h-2.5zM652.7,304.7h2.5v1.2h-2.5zM658.4,304.7h2.5v1.2h-2.5zM660.3,304.7h1.2v2.5h-1.2zM698.3,304.7h1.2v1.2h-1.2zM700.2,304.7h2.5v1.2h-2.5zM704,304.7h1.2v2.5h-1.2z"/>
<path fill="#130015" d="M664.1,280h1.2v1.2h-1.2zM677.4,280h1.2v2.5h-1.2zM698.3,280h1.2v2.5h-1.2zM681.2,281.9h2.5v2.5h-2.5zM690.7,281.9h1.2v1.2h-1.2zM696.4,281.9h2.5v1.2h-2.5zM641.3,283.8h1.2v2.5h-1.2zM673.6,283.8h3.8v1.2h-3.8zM700.2,283.8h2.5v1.2h-2.5zM705.9,283.8h2.5v2.5h-2.5zM643.2,285.7h1.2v2.5h-1.2zM647,285.7h2.5v2.5h-2.5zM673.6,285.7h2.5v2.5h-2.5zM662.2,287.6h2.5v2.5h-2.5zM700.2,287.6h1.2v2.5h-1.2zM702.1,287.6h1.2v2.5h-1.2zM641.3,289.5h2.5v2.5h-2.5zM648.9,289.5h3.8v1.2h-3.8zM656.5,289.5h1.2v1.2h-1.2zM679.3,289.5h3.8v1.2h-3.8zM690.7,289.5h3.8v1.2h-3.8zM692.6,289.5h1.2v1.2h-1.2zM696.4,289.5h1.2v1.2h-1.2zM656.5,291.4h2.5v2.5h-2.5zM639.4,293.3h2.5v2.5h-2.5zM652.7,293.3h1.2v2.5h-1.2zM666,293.3h3.8v1.2h-3.8zM675.5,293.3h2.5v1.2h-2.5zM694.5,293.3h1.2v1.2h-1.2zM696.4,293.3h1.2v2.5h-1.2zM681.2,295.2h2.5v1.2h-2.5zM692.6,295.2h2.5v1.2h-2.5zM696.4,295.2h1.2v1.2h-1.2zM704,295.2h1.2v1.2h-1.2zM707.8,295.2h1.2v1.2h-1.2zM650.8,297.1h3.8v1.2h-3.8zM652.7,297.1h2.5v2.5h-2.5zM656.5,297.1h2.5v1.2h-2.5zM667.9,297.1h2.5v1.2h-2.5zM673.6,297.1h1.2v1.2h-1.2zM692.6,297.1h2.5v2.5h-2.5zM658.4,299h2.5v2.5h-2.5zM673.6,299h2.5v2.5h-2.5zM677.4,299h2.5v2.5h-2.5zM685,299h1.2v2.5h-1.2zM694.5,299h1.2v1.2h-1.2zM696.4,299h2.5v1.2h-2.5zM698.3,299h1.2v1.2h-1.2zM704,299h2.5v2.5h-2.5zM647,300.9h2.5v2.5h-2.5zM671.7,300.9h3.8v2.5h-3.8zM685,300.9h3.8v1.2h-3.8zM696.4,300.9h2.5v2.5h-2.5zM700.2,300.9h1.2v2.5h-1.2zM641.3,302.8h2.5v1.2h-2.5zM645.1,302.8h1.2v1.2h-1.2zM658.4,302.8h2.5v1.2h-2.5zM660.3,302.8h3.8v2.5h-3.8zM705.9,302.8h1.2v1.2h-1.2zM647,304.7h2.5v1.2h-2.5zM648.9,304.7h1.2v2.5h-1.2zM662.2,304.7h1.2v1.2h-1.2zM698.3,304.7h3.8v2.5h-3.8zM704,304.7h2.5v1.2h-2.5z"/>
<path fill="#770088" d="M729.7,346.2L742.8,345.3L755.6,352.8L744.9,353.8L735.7,351.8Z"/>
<path fill="#41004b" d="M500,272.5L521.2,258.8L535,257.5L525,265L512.5,270L500,275Z"/>
<path fill="#41004b" d="M521.2,275L532.5,262.5L542.5,260L552.5,258.8L562.5,247.5L570,236.2L577.5,235L573.8,242.5L570,248.8L560,257.5L550,265L537.5,271.2L527.5,275.6Z"/>
<path fill="#41004b" d="M565,228.8L572.5,225L570,233.8L565,233.8Z"/>
<path fill="#770088" d="M600,230L608.8,226.9L615,226.2L613.8,231.2L617.5,236.2L610,237.5L605,235L600,233.8Z"/>
<path fill="#770088" d="M592.5,246.2L612.5,237.5L618.8,237.5L623.1,242.5L617.5,243.1L606.2,244.4L595,248.1Z"/>
<path fill="#770088" d="M580,265L587.5,258.8L600,255L612.5,255L625,255L627.5,262.5L625,270L620,275L612.5,275L606.2,270L600,271.2L592.5,270L587.5,271.2L582.5,270Z"/>
<path fill="#41004b" d="M570,256.2L580,253.8L590,251.2L602.5,250L612.5,251.9L618.8,255L607.5,255L597.5,255.6L587.5,258.8L580,262.5L570,265Z"/>
<path fill="#770088" d="M552.5,262.5L570,255L580,256.2L570,262.5L560,271.2L555,270Z"/>
<path fill="#770088" d="M582.5,280L595,275L603.8,275L612.5,276.2L620,275L603.8,285L600,286.2L597.5,282.5L587.5,285L583.8,283.8Z"/>
<path fill="#770088" d="M582.5,287.5L592.5,285L600,287.5L602.5,295L605,300L603.8,310L600,310L596.2,305L592.5,295L587.5,292.5L582.5,291.2Z"/>
<path fill="#41004b" d="M595,295L600,292.5L603.8,300L604.4,310L600,310L596.9,303.8Z"/>
<path fill="#770088" d="M551.2,212.5L560,211.2L567.5,213.8L565,216.2L556.2,217.5L551.2,215Z"/>
<path fill="#770088" d="M553.8,236.2L562.5,235.6L560,241.2L555,238.8Z"/>
<path fill="#770088" d="M566.5,213.8h2.5v1.2h-2.5zM568.4,213.8h1.2v2.5h-1.2zM551.3,215.7h1.2v1.2h-1.2zM560.8,215.7h1.2v1.2h-1.2zM551.3,217.6h1.2v2.5h-1.2zM553.2,217.6h2.5v2.5h-2.5zM555.1,217.6h1.2v1.2h-1.2zM557,217.6h1.2v2.5h-1.2zM566.5,217.6h2.5v1.2h-2.5zM568.4,217.6h2.5v1.2h-2.5zM574.1,217.6h1.2v1.2h-1.2zM576,217.6h2.5v2.5h-2.5zM551.3,219.5h1.2v2.5h-1.2zM555.1,219.5h2.5v1.2h-2.5zM557,219.5h3.8v1.2h-3.8zM560.8,219.5h1.2v2.5h-1.2zM568.4,219.5h1.2v1.2h-1.2zM572.2,219.5h3.8v1.2h-3.8zM551.3,221.4h2.5v1.2h-2.5zM555.1,221.4h3.8v2.5h-3.8zM558.9,221.4h2.5v1.2h-2.5zM564.6,221.4h3.8v1.2h-3.8zM568.4,221.4h3.8v1.2h-3.8zM576,221.4h1.2v1.2h-1.2zM566.5,223.3h2.5v2.5h-2.5zM572.2,223.3h1.2v1.2h-1.2zM576,223.3h2.5v2.5h-2.5zM547.5,225.2h2.5v1.2h-2.5zM553.2,225.2h1.2v2.5h-1.2zM562.7,225.2h1.2v1.2h-1.2zM570.3,225.2h3.8v1.2h-3.8zM547.5,227.1h3.8v1.2h-3.8zM570.3,229h3.8v1.2h-3.8zM574.1,229h1.2v1.2h-1.2zM570.3,230.9h2.5v1.2h-2.5z"/>
<path fill="#41004b" d="M560.7,218.8h1.2v1.2h-1.2zM572.1,218.8h3.8v1.2h-3.8zM568.3,220.7h1.2v2.5h-1.2zM570.2,222.6h3.8v2.5h-3.8zM562.6,226.4h1.2v1.2h-1.2zM566.4,226.4h1.2v2.5h-1.2zM568.3,226.4h3.8v1.2h-3.8zM574,226.4h2.5v2.5h-2.5zM566.4,230.2h1.2v1.2h-1.2z"/>
<path fill="#fff" d="M570,260h1.2v2.5h-1.2zM580,262.5h2.5v1.2h-2.5zM610,262.5h2.5v1.2h-2.5zM600,265h1.2v1.2h-1.2zM597.5,267.5h1.2v1.2h-1.2zM612.5,267.5h1.2v1.2h-1.2z"/>
<path fill="#fff" d="M575,267.5L587.5,262.5L597.5,261.2L587.5,266.2L577.5,270Z"/>
<path fill="#fff" d="M612.5,258.8L626.2,256.9L626.9,260L615,261.2Z"/>
<path fill="#fff" d="M616.2,265L626.2,263.8L625,267.5L617.5,268.1Z"/>
<path fill="#770088" d="M542.6,301.9h3.8v1.2h-3.8zM544.5,301.9h2.5v1.2h-2.5zM546.4,301.9h1.2v1.2h-1.2zM550.2,301.9h2.5v1.2h-2.5zM540.7,305.7h2.5v1.2h-2.5zM542.6,305.7h1.2v1.2h-1.2zM544.5,305.7h1.2v1.2h-1.2zM548.3,305.7h3.8v2.5h-3.8zM550.2,305.7h2.5v1.2h-2.5zM538.8,307.6h2.5v2.5h-2.5zM540.7,307.6h3.8v2.5h-3.8zM542.6,307.6h1.2v2.5h-1.2zM548.3,307.6h2.5v2.5h-2.5zM550.2,307.6h3.8v1.2h-3.8zM554,307.6h2.5v2.5h-2.5zM538.8,309.5h2.5v1.2h-2.5zM540.7,309.5h2.5v1.2h-2.5zM546.4,309.5h2.5v1.2h-2.5zM548.3,309.5h1.2v1.2h-1.2zM550.2,309.5h2.5v2.5h-2.5zM552.1,309.5h1.2v1.2h-1.2zM538.8,313.3h3.8v1.2h-3.8zM540.7,313.3h2.5v2.5h-2.5zM544.5,313.3h1.2v1.2h-1.2zM546.4,313.3h1.2v1.2h-1.2zM548.3,313.3h2.5v1.2h-2.5zM538.8,315.2h1.2v1.2h-1.2zM540.7,315.2h1.2v1.2h-1.2zM542.6,315.2h1.2v1.2h-1.2zM535,317.1h1.2v1.2h-1.2zM536.9,317.1h3.8v1.2h-3.8zM540.7,317.1h1.2v1.2h-1.2zM546.4,317.1h2.5v1.2h-2.5zM548.3,317.1h2.5v2.5h-2.5zM550.2,317.1h2.5v2.5h-2.5zM535,319h2.5v1.2h-2.5zM536.9,319h3.8v2.5h-3.8zM538.8,319h1.2v1.2h-1.2z"/>
<path fill="#41004b" d="M565,305L570,304.4L573.8,307.5L570,309.4L566.2,307.8Z"/>
<path fill="#41004b" d="M631.9,250h1.2v1.2h-1.2zM635.7,250h1.2v1.2h-1.2zM633.8,251.9h2.5v2.5h-2.5zM637.6,253.8h3.8v2.5h-3.8zM639.5,253.8h1.2v1.2h-1.2zM643.3,253.8h3.8v1.2h-3.8zM649,253.8h3.8v1.2h-3.8zM639.5,255.7h1.2v1.2h-1.2zM645.2,255.7h2.5v1.2h-2.5zM647.1,255.7h1.2v2.5h-1.2zM630,257.6h1.2v2.5h-1.2zM643.3,257.6h1.2v2.5h-1.2zM645.2,257.6h2.5v2.5h-2.5zM649,257.6h2.5v2.5h-2.5zM639.5,259.5h2.5v1.2h-2.5zM647.1,259.5h3.8v1.2h-3.8zM650.9,259.5h2.5v1.2h-2.5zM654.7,259.5h1.2v2.5h-1.2zM637.6,261.4h1.2v1.2h-1.2zM652.8,261.4h1.2v2.5h-1.2zM635.7,263.3h3.8v2.5h-3.8zM635.7,265.2h2.5v2.5h-2.5zM639.5,265.2h2.5v1.2h-2.5zM643.3,265.2h2.5v2.5h-2.5zM645.2,265.2h1.2v1.2h-1.2zM647.1,265.2h1.2v1.2h-1.2zM645.2,267.1h1.2v2.5h-1.2zM650.9,267.1h3.8v1.2h-3.8zM656.6,267.1h2.5v2.5h-2.5zM639.5,269h2.5v2.5h-2.5zM649,269h1.2v1.2h-1.2zM635.7,270.9h2.5v2.5h-2.5zM637.6,270.9h1.2v1.2h-1.2zM639.5,270.9h2.5v1.2h-2.5zM641.4,270.9h3.8v1.2h-3.8zM649,270.9h1.2v1.2h-1.2zM650.9,272.8h1.2v2.5h-1.2zM652.8,272.8h1.2v2.5h-1.2zM656.6,272.8h3.8v1.2h-3.8zM658.5,272.8h1.2v2.5h-1.2zM633.8,274.7h1.2v2.5h-1.2zM637.6,274.7h3.8v1.2h-3.8zM654.7,274.7h1.2v1.2h-1.2zM656.6,274.7h2.5v1.2h-2.5zM643.3,276.6h2.5v2.5h-2.5zM649,276.6h1.2v2.5h-1.2zM650.9,276.6h1.2v2.5h-1.2zM652.8,276.6h2.5v2.5h-2.5zM658.5,276.6h3.8v1.2h-3.8zM647.1,278.5h1.2v2.5h-1.2zM652.8,278.5h1.2v1.2h-1.2zM658.5,278.5h1.2v2.5h-1.2zM652.8,280.4h2.5v1.2h-2.5zM656.6,280.4h2.5v2.5h-2.5zM658.5,280.4h2.5v1.2h-2.5zM645.2,282.3h1.2v1.2h-1.2zM647.1,282.3h2.5v1.2h-2.5zM649,282.3h3.8v1.2h-3.8zM652.8,282.3h2.5v1.2h-2.5zM656.6,282.3h1.2v1.2h-1.2zM643.3,284.2h2.5v1.2h-2.5zM647.1,284.2h1.2v2.5h-1.2zM641.4,286.1h2.5v1.2h-2.5zM647.1,286.1h2.5v1.2h-2.5zM652.8,286.1h1.2v1.2h-1.2zM654.7,286.1h1.2v2.5h-1.2zM658.5,286.1h2.5v2.5h-2.5zM643.3,288h2.5v1.2h-2.5zM637.6,289.9h2.5v1.2h-2.5zM639.5,289.9h2.5v2.5h-2.5zM649,289.9h1.2v1.2h-1.2zM652.8,289.9h1.2v1.2h-1.2zM656.6,289.9h2.5v1.2h-2.5zM658.5,289.9h1.2v1.2h-1.2zM639.5,291.8h2.5v1.2h-2.5zM643.3,291.8h1.2v2.5h-1.2zM645.2,291.8h1.2v2.5h-1.2zM650.9,291.8h3.8v1.2h-3.8zM654.7,291.8h1.2v2.5h-1.2zM656.6,291.8h1.2v2.5h-1.2zM658.5,291.8h3.8v1.2h-3.8zM639.5,293.7h1.2v2.5h-1.2zM641.4,293.7h1.2v2.5h-1.2zM647.1,293.7h1.2v1.2h-1.2zM654.7,293.7h3.8v1.2h-3.8zM658.5,293.7h2.5v2.5h-2.5zM645.2,295.6h1.2v1.2h-1.2zM654.7,295.6h3.8v2.5h-3.8zM656.6,295.6h2.5v1.2h-2.5zM658.5,295.6h2.5v1.2h-2.5zM639.5,297.5h2.5v1.2h-2.5zM641.4,299.4h1.2v2.5h-1.2zM647.1,299.4h2.5v1.2h-2.5zM658.5,299.4h2.5v2.5h-2.5zM641.4,301.3h1.2v1.2h-1.2zM652.8,301.3h2.5v1.2h-2.5zM639.5,303.2h2.5v1.2h-2.5zM643.3,303.2h3.8v1.2h-3.8zM656.6,303.2h3.8v1.2h-3.8zM649,305.1h2.5v2.5h-2.5zM652.8,305.1h2.5v2.5h-2.5zM656.6,305.1h1.2v1.2h-1.2zM643.3,307h2.5v1.2h-2.5zM650.9,307h1.2v1.2h-1.2zM650.9,308.9h2.5v1.2h-2.5zM652.8,308.9h2.5v1.2h-2.5zM654.7,308.9h3.8v1.2h-3.8zM656.6,308.9h1.2v1.2h-1.2zM641.4,310.8h1.2v2.5h-1.2zM654.7,310.8h1.2v1.2h-1.2zM656.6,310.8h1.2v2.5h-1.2zM641.4,312.7h3.8v2.5h-3.8zM643.3,312.7h2.5v1.2h-2.5zM647.1,312.7h1.2v1.2h-1.2zM650.9,312.7h1.2v2.5h-1.2zM641.4,314.6h2.5v2.5h-2.5zM643.3,314.6h1.2v1.2h-1.2zM647.1,314.6h3.8v2.5h-3.8zM652.8,314.6h2.5v2.5h-2.5zM656.6,314.6h2.5v2.5h-2.5zM643.3,316.5h1.2v1.2h-1.2zM649,316.5h2.5v2.5h-2.5zM656.6,316.5h2.5v2.5h-2.5zM649,318.4h3.8v1.2h-3.8zM652.8,318.4h3.8v2.5h-3.8zM656.6,318.4h2.5v1.2h-2.5z"/>
<path fill="#130015" d="M657.1,281.9h2.5v2.5h-2.5zM659,283.8h1.2v1.2h-1.2zM643.8,285.7h2.5v1.2h-2.5zM647.6,285.7h2.5v1.2h-2.5zM653.3,285.7h2.5v1.2h-2.5zM640,287.6h1.2v1.2h-1.2zM645.7,287.6h1.2v2.5h-1.2zM659,287.6h2.5v1.2h-2.5zM647.6,289.5h1.2v1.2h-1.2zM653.3,289.5h2.5v1.2h-2.5zM655.2,289.5h1.2v1.2h-1.2zM640,291.4h1.2v1.2h-1.2zM643.8,291.4h2.5v2.5h-2.5zM647.6,291.4h1.2v1.2h-1.2zM659,291.4h1.2v1.2h-1.2zM640,293.3h2.5v1.2h-2.5zM653.3,293.3h2.5v1.2h-2.5zM640,295.2h2.5v2.5h-2.5zM643.8,295.2h1.2v1.2h-1.2zM655.2,295.2h3.8v1.2h-3.8zM640,297.1h2.5v1.2h-2.5zM647.6,297.1h2.5v2.5h-2.5zM649.5,297.1h2.5v2.5h-2.5zM653.3,297.1h1.2v2.5h-1.2zM657.1,297.1h1.2v1.2h-1.2zM649.5,299h3.8v1.2h-3.8zM645.7,300.9h3.8v2.5h-3.8zM653.3,300.9h2.5v1.2h-2.5zM655.2,300.9h1.2v1.2h-1.2zM645.7,302.8h1.2v2.5h-1.2zM659,302.8h1.2v2.5h-1.2zM640,304.7h1.2v2.5h-1.2zM641.9,304.7h1.2v1.2h-1.2zM647.6,304.7h2.5v2.5h-2.5zM649.5,306.6h1.2v2.5h-1.2zM640,308.5h1.2v2.5h-1.2zM657.1,308.5h1.2v1.2h-1.2zM651.4,310.4h1.2v2.5h-1.2zM655.2,310.4h1.2v1.2h-1.2zM659,310.4h3.8v1.2h-3.8zM655.2,312.3h1.2v1.2h-1.2zM655.2,316.1h1.2v1.2h-1.2zM649.5,318h2.5v1.2h-2.5zM653.3,318h2.5v2.5h-2.5zM659,318h1.2v2.5h-1.2z"/>
<path fill="#770088" d="M527.5,330L532.5,330L532.5,336.2L528.1,335.6Z"/>
<path fill="#770088" d="M551.2,333.8L558.8,333.8L558.8,338.8L551.9,338.8Z"/>
<path fill="#770088" d="M511.2,365L520,353.8L530,351.2L535,353.8L525,358.8L516.2,366.2Z"/>
<path fill="#41004b" d="M528.3,351.2h1.2v1.2h-1.2zM526.4,353.1h2.5v2.5h-2.5zM530.2,353.1h2.5v1.2h-2.5zM532.1,353.1h1.2v1.2h-1.2zM518.8,355h1.2v2.5h-1.2zM522.6,355h1.2v1.2h-1.2zM520.7,356.9h3.8v2.5h-3.8zM522.6,356.9h2.5v2.5h-2.5zM520.7,358.8h3.8v1.2h-3.8zM515,360.7h1.2v1.2h-1.2zM516.9,362.6h1.2v1.2h-1.2z"/>
<path fill="#770088" d="M500,376.2L511.2,373.8L511.2,380L500,380Z"/>
<path fill="#770088" d="M503.8,367.5L507.5,367.5L507.5,369.4L503.8,369.4Z"/>
<path fill="#41004b" d="M518.8,370L526.2,370L526.2,380L518.8,380Z"/>
<path fill="#770088" d="M519.4,380h1.2v2.5h-1.2zM517.5,381.9h1.2v1.2h-1.2zM521.3,381.9h2.5v1.2h-2.5zM517.5,383.8h3.8v1.2h-3.8zM521.3,385.7h1.2v2.5h-1.2zM517.5,387.6h2.5v1.2h-2.5zM519.4,387.6h1.2v2.5h-1.2zM521.3,387.6h3.8v1.2h-3.8z"/>
<path fill="#770088" d="M532.5,382.5L545,381.2L547.5,386.2L546.2,388.8L535,388.8Z"/>
<path fill="#770088" d="M537.5,398.1L545,398.1L545,405L537.5,405Z"/>
<path fill="#770088" d="M550,400.6L557.5,401.2L558.8,407.5L553.8,407.5Z"/>
<path fill="#770088" d="M580,407.5L586.2,408.1L590,417.5L587.5,421.9L582.5,417.5L578.8,413.8Z"/>
<path fill="#130015" d="M539.4,406.2h3.8v1.2h-3.8zM533.8,408.1h3.8v1.2h-3.8zM535.6,408.1h1.2v1.2h-1.2zM537.5,408.1h1.2v2.5h-1.2zM539.4,408.1h1.2v1.2h-1.2zM533.8,410h2.5v2.5h-2.5zM535.6,410h2.5v1.2h-2.5zM539.4,410h1.2v2.5h-1.2zM533.8,411.9h1.2v2.5h-1.2zM535.6,411.9h2.5v2.5h-2.5zM539.4,411.9h3.8v1.2h-3.8zM535.6,413.8h1.2v2.5h-1.2zM537.5,413.8h2.5v2.5h-2.5zM535.6,415.7h1.2v2.5h-1.2zM537.5,415.7h3.8v1.2h-3.8zM533.8,417.6h2.5v1.2h-2.5zM539.4,417.6h3.8v1.2h-3.8zM533.8,419.5h2.5v2.5h-2.5zM535.6,419.5h2.5v2.5h-2.5zM537.5,419.5h1.2v1.2h-1.2zM533.8,421.4h2.5v1.2h-2.5zM535.6,421.4h1.2v2.5h-1.2zM537.5,421.4h2.5v1.2h-2.5zM539.4,421.4h1.2v1.2h-1.2z"/>
<path fill="#130015" d="M537.5,428.8L541.2,428.8L541.2,436.2L537.5,436.2Z"/>
<path fill="#130015" d="M543.8,436.2L547.5,436.2L551.2,442.5L551.2,450L546.2,450L543.8,442.5Z"/>
<path fill="#770088" d="M462.5,407.5L466.2,407.5L466.2,420L463.8,420Z"/>
<path fill="#130015" d="M468.8,401.2L473.8,401.2L473.8,405L468.8,405Z"/>
<path fill="#770088" d="M616.2,405L620,405L620,410L616.2,410Z"/>
<path fill="#41004b" d="M521.6,371.3h2.5v2.5h-2.5zM546.3,371.3h2.5v2.5h-2.5zM504.5,373.2h1.2v2.5h-1.2zM523.5,373.2h1.2v1.2h-1.2zM527.3,373.2h2.5v1.2h-2.5zM498.8,377h2.5v1.2h-2.5zM515.9,377h2.5v2.5h-2.5zM544.4,378.9h3.8v2.5h-3.8zM508.3,382.7h3.8v2.5h-3.8zM500.7,384.6h1.2v2.5h-1.2zM536.8,384.6h3.8v1.2h-3.8zM504.5,386.5h1.2v1.2h-1.2zM517.8,386.5h2.5v1.2h-2.5zM512.1,388.4h2.5v1.2h-2.5zM529.2,388.4h1.2v2.5h-1.2zM506.4,392.2h2.5v1.2h-2.5zM514,394.1h2.5v1.2h-2.5zM531.1,394.1h3.8v1.2h-3.8zM506.4,396h1.2v2.5h-1.2zM508.3,396h2.5v1.2h-2.5zM515.9,399.8h2.5v1.2h-2.5zM533,399.8h1.2v2.5h-1.2zM529.2,403.6h2.5v1.2h-2.5zM534.9,403.6h1.2v1.2h-1.2zM544.4,403.6h2.5v2.5h-2.5zM527.3,407.4h1.2v1.2h-1.2zM533,409.3h2.5v1.2h-2.5zM536.8,413.1h2.5v1.2h-2.5z"/>
<path fill="#770088" d="M652.3,380h2.5v1.2h-2.5zM654.2,380h2.5v2.5h-2.5zM656.1,380h1.2v1.2h-1.2zM659.9,380h3.8v1.2h-3.8zM665.6,380h1.2v1.2h-1.2zM671.3,380h3.8v2.5h-3.8zM675.1,380h2.5v1.2h-2.5zM677,380h1.2v2.5h-1.2zM678.9,380h2.5v1.2h-2.5zM680.8,380h2.5v2.5h-2.5zM656.1,381.9h2.5v1.2h-2.5zM659.9,381.9h1.2v2.5h-1.2zM663.7,381.9h1.2v1.2h-1.2zM665.6,381.9h1.2v1.2h-1.2zM667.5,381.9h2.5v2.5h-2.5zM671.3,381.9h2.5v2.5h-2.5zM673.2,381.9h3.8v1.2h-3.8zM677,381.9h3.8v2.5h-3.8zM650.4,383.8h3.8v2.5h-3.8zM656.1,383.8h1.2v2.5h-1.2zM658,383.8h2.5v1.2h-2.5zM659.9,383.8h1.2v2.5h-1.2zM671.3,383.8h1.2v2.5h-1.2zM673.2,383.8h1.2v2.5h-1.2zM677,383.8h2.5v2.5h-2.5zM648.5,385.7h1.2v1.2h-1.2zM658,385.7h2.5v1.2h-2.5zM659.9,385.7h1.2v2.5h-1.2zM661.8,385.7h2.5v1.2h-2.5zM665.6,385.7h2.5v1.2h-2.5zM667.5,385.7h1.2v2.5h-1.2zM669.4,385.7h1.2v1.2h-1.2zM646.6,387.6h2.5v1.2h-2.5zM648.5,387.6h1.2v2.5h-1.2zM650.4,387.6h1.2v2.5h-1.2zM654.2,387.6h1.2v1.2h-1.2zM656.1,387.6h1.2v2.5h-1.2zM658,387.6h2.5v2.5h-2.5zM659.9,387.6h1.2v2.5h-1.2zM663.7,387.6h2.5v2.5h-2.5zM667.5,387.6h2.5v1.2h-2.5zM669.4,387.6h1.2v2.5h-1.2zM623.8,389.5h2.5v2.5h-2.5zM627.6,389.5h3.8v1.2h-3.8zM629.5,389.5h3.8v1.2h-3.8zM644.7,389.5h1.2v1.2h-1.2zM646.6,389.5h2.5v1.2h-2.5zM654.2,389.5h1.2v1.2h-1.2zM663.7,389.5h1.2v1.2h-1.2zM665.6,389.5h2.5v2.5h-2.5zM667.5,389.5h3.8v1.2h-3.8zM621.9,391.4h1.2v1.2h-1.2zM623.8,391.4h3.8v1.2h-3.8zM631.4,391.4h3.8v1.2h-3.8zM642.8,391.4h1.2v2.5h-1.2zM644.7,391.4h1.2v2.5h-1.2zM654.2,391.4h1.2v1.2h-1.2zM656.1,391.4h1.2v2.5h-1.2zM658,391.4h2.5v2.5h-2.5zM663.7,391.4h2.5v1.2h-2.5zM620,393.3h3.8v1.2h-3.8zM623.8,393.3h1.2v1.2h-1.2zM627.6,393.3h1.2v1.2h-1.2zM629.5,393.3h2.5v2.5h-2.5zM631.4,393.3h1.2v1.2h-1.2zM633.3,393.3h1.2v1.2h-1.2zM635.2,393.3h1.2v2.5h-1.2zM637.1,393.3h1.2v1.2h-1.2zM639,393.3h1.2v2.5h-1.2zM648.5,393.3h1.2v2.5h-1.2zM650.4,393.3h2.5v2.5h-2.5zM652.3,393.3h1.2v1.2h-1.2zM658,393.3h1.2v2.5h-1.2zM659.9,393.3h3.8v1.2h-3.8zM620,395.2h2.5v1.2h-2.5zM621.9,395.2h3.8v2.5h-3.8zM625.7,395.2h2.5v2.5h-2.5zM627.6,395.2h3.8v2.5h-3.8zM629.5,395.2h3.8v2.5h-3.8zM639,395.2h3.8v2.5h-3.8zM640.9,395.2h1.2v2.5h-1.2zM648.5,395.2h2.5v1.2h-2.5zM650.4,395.2h1.2v1.2h-1.2zM652.3,395.2h1.2v2.5h-1.2zM654.2,395.2h2.5v1.2h-2.5zM656.1,395.2h3.8v2.5h-3.8zM658,395.2h1.2v1.2h-1.2zM620,397.1h2.5v1.2h-2.5zM625.7,397.1h1.2v1.2h-1.2zM627.6,397.1h3.8v1.2h-3.8zM629.5,397.1h1.2v2.5h-1.2zM631.4,397.1h3.8v2.5h-3.8zM633.3,397.1h1.2v1.2h-1.2zM637.1,397.1h1.2v1.2h-1.2zM639,397.1h1.2v1.2h-1.2zM640.9,397.1h2.5v2.5h-2.5zM642.8,397.1h1.2v1.2h-1.2zM646.6,397.1h2.5v1.2h-2.5zM648.5,397.1h2.5v2.5h-2.5zM652.3,397.1h1.2v2.5h-1.2zM620,399h1.2v2.5h-1.2zM625.7,399h3.8v2.5h-3.8zM629.5,399h2.5v2.5h-2.5zM631.4,399h2.5v2.5h-2.5zM635.2,399h2.5v1.2h-2.5zM637.1,399h1.2v1.2h-1.2zM639,399h1.2v1.2h-1.2zM640.9,399h1.2v1.2h-1.2zM650.4,399h2.5v1.2h-2.5zM652.3,399h2.5v2.5h-2.5zM620,400.9h2.5v2.5h-2.5zM621.9,400.9h2.5v1.2h-2.5zM623.8,400.9h3.8v2.5h-3.8zM627.6,400.9h3.8v2.5h-3.8zM635.2,400.9h3.8v1.2h-3.8zM639,400.9h2.5v1.2h-2.5zM642.8,400.9h1.2v1.2h-1.2zM648.5,400.9h2.5v2.5h-2.5zM650.4,400.9h2.5v1.2h-2.5zM652.3,400.9h1.2v1.2h-1.2zM627.6,402.8h2.5v2.5h-2.5zM633.3,402.8h3.8v1.2h-3.8zM642.8,402.8h1.2v2.5h-1.2zM646.6,402.8h3.8v2.5h-3.8zM623.8,404.7h1.2v1.2h-1.2zM625.7,404.7h1.2v1.2h-1.2zM627.6,404.7h1.2v1.2h-1.2zM633.3,404.7h1.2v1.2h-1.2zM635.2,404.7h1.2v1.2h-1.2zM639,404.7h1.2v1.2h-1.2zM640.9,404.7h2.5v2.5h-2.5zM621.9,406.6h2.5v2.5h-2.5zM629.5,406.6h1.2v1.2h-1.2zM633.3,406.6h1.2v2.5h-1.2zM635.2,406.6h2.5v1.2h-2.5zM637.1,406.6h3.8v2.5h-3.8zM644.7,406.6h3.8v1.2h-3.8zM627.6,408.5h1.2v2.5h-1.2zM631.4,408.5h2.5v1.2h-2.5zM637.1,408.5h2.5v2.5h-2.5zM640.9,408.5h1.2v2.5h-1.2zM642.8,408.5h2.5v1.2h-2.5zM623.8,410.4h1.2v2.5h-1.2zM625.7,410.4h1.2v1.2h-1.2zM629.5,410.4h1.2v1.2h-1.2zM631.4,410.4h1.2v2.5h-1.2zM633.3,410.4h2.5v2.5h-2.5zM639,410.4h1.2v2.5h-1.2zM640.9,410.4h2.5v1.2h-2.5zM620,412.3h3.8v1.2h-3.8zM623.8,412.3h1.2v1.2h-1.2zM625.7,412.3h2.5v1.2h-2.5zM627.6,412.3h2.5v1.2h-2.5zM631.4,412.3h1.2v2.5h-1.2zM633.3,412.3h2.5v2.5h-2.5zM639,412.3h1.2v1.2h-1.2zM620,414.2h3.8v2.5h-3.8zM625.7,414.2h3.8v1.2h-3.8zM633.3,414.2h1.2v2.5h-1.2zM635.2,414.2h2.5v2.5h-2.5zM620,416.1h2.5v2.5h-2.5zM623.8,416.1h2.5v2.5h-2.5zM627.6,416.1h2.5v1.2h-2.5zM629.5,416.1h1.2v1.2h-1.2zM631.4,416.1h2.5v1.2h-2.5zM635.2,416.1h1.2v1.2h-1.2zM620,418h3.8v1.2h-3.8zM621.9,418h1.2v1.2h-1.2zM623.8,418h3.8v1.2h-3.8zM625.7,418h1.2v1.2h-1.2zM627.6,418h2.5v1.2h-2.5zM629.5,418h1.2v2.5h-1.2zM633.3,418h1.2v1.2h-1.2zM623.8,419.9h2.5v1.2h-2.5zM627.6,419.9h2.5v2.5h-2.5zM629.5,419.9h2.5v1.2h-2.5zM621.9,421.8h1.2v2.5h-1.2zM623.8,421.8h1.2v1.2h-1.2zM627.6,421.8h2.5v1.2h-2.5zM620,423.7h2.5v1.2h-2.5zM620,425.6h2.5v2.5h-2.5z"/>
<path fill="#41004b" d="M661.8,380h1.2v1.2h-1.2zM665.6,380h1.2v2.5h-1.2zM667.5,380h1.2v1.2h-1.2zM654.2,381.9h1.2v1.2h-1.2zM665.6,383.8h3.8v1.2h-3.8zM675.1,383.8h1.2v1.2h-1.2zM677,383.8h3.8v1.2h-3.8zM654.2,385.7h3.8v1.2h-3.8zM659.9,385.7h1.2v1.2h-1.2zM663.7,387.6h3.8v1.2h-3.8zM631.4,389.5h1.2v1.2h-1.2zM652.3,389.5h2.5v1.2h-2.5zM663.7,389.5h3.8v1.2h-3.8zM625.7,391.4h3.8v1.2h-3.8zM648.5,391.4h1.2v2.5h-1.2zM654.2,391.4h2.5v2.5h-2.5zM627.6,393.3h1.2v2.5h-1.2zM633.3,393.3h1.2v1.2h-1.2zM646.6,393.3h3.8v2.5h-3.8zM654.2,393.3h2.5v1.2h-2.5zM658,393.3h2.5v2.5h-2.5zM639,395.2h1.2v1.2h-1.2zM646.6,395.2h1.2v1.2h-1.2zM652.3,395.2h1.2v2.5h-1.2zM629.5,397.1h1.2v1.2h-1.2zM640.9,397.1h3.8v1.2h-3.8zM646.6,397.1h1.2v1.2h-1.2zM648.5,397.1h1.2v2.5h-1.2zM654.2,397.1h2.5v2.5h-2.5zM631.4,399h2.5v1.2h-2.5zM639,399h3.8v2.5h-3.8zM631.4,400.9h1.2v1.2h-1.2zM648.5,402.8h2.5v1.2h-2.5zM620,404.7h2.5v2.5h-2.5zM621.9,406.6h1.2v1.2h-1.2zM627.6,406.6h2.5v2.5h-2.5zM631.4,406.6h1.2v2.5h-1.2zM633.3,406.6h1.2v2.5h-1.2zM637.1,406.6h2.5v1.2h-2.5zM620,410.4h2.5v2.5h-2.5zM639,410.4h1.2v2.5h-1.2zM629.5,412.3h2.5v1.2h-2.5zM631.4,412.3h3.8v1.2h-3.8zM621.9,416.1h1.2v2.5h-1.2zM627.6,416.1h3.8v2.5h-3.8zM631.4,416.1h2.5v1.2h-2.5zM625.7,418h3.8v1.2h-3.8zM631.4,418h1.2v2.5h-1.2zM620,419.9h2.5v1.2h-2.5zM623.8,421.8h1.2v2.5h-1.2zM627.6,421.8h1.2v2.5h-1.2zM623.8,423.7h1.2v2.5h-1.2zM620,425.6h1.2v1.2h-1.2z"/>
<path fill="#770088" d="M657.7,356.9h1.2v1.2h-1.2zM659.6,356.9h2.5v1.2h-2.5zM659.6,360.7h2.5v2.5h-2.5zM665.3,362.6h1.2v1.2h-1.2zM672.9,362.6h1.2v1.2h-1.2zM650.1,364.5h1.2v1.2h-1.2zM653.9,364.5h1.2v1.2h-1.2zM657.7,364.5h3.8v1.2h-3.8zM663.4,364.5h2.5v1.2h-2.5zM671,364.5h1.2v2.5h-1.2zM648.2,366.4h1.2v1.2h-1.2zM650.1,366.4h2.5v2.5h-2.5zM652,366.4h2.5v2.5h-2.5zM659.6,366.4h1.2v1.2h-1.2zM661.5,366.4h1.2v1.2h-1.2zM665.3,366.4h3.8v1.2h-3.8zM674.8,366.4h1.2v1.2h-1.2zM676.7,366.4h1.2v1.2h-1.2zM678.6,366.4h1.2v2.5h-1.2zM653.9,368.3h3.8v2.5h-3.8zM655.8,368.3h1.2v2.5h-1.2zM661.5,368.3h2.5v1.2h-2.5zM665.3,368.3h2.5v2.5h-2.5zM671,368.3h2.5v1.2h-2.5zM672.9,368.3h1.2v1.2h-1.2zM674.8,368.3h2.5v1.2h-2.5zM678.6,368.3h2.5v1.2h-2.5zM650.1,370.2h2.5v1.2h-2.5zM672.9,370.2h2.5v1.2h-2.5zM676.7,370.2h1.2v2.5h-1.2zM650.1,372.1h3.8v2.5h-3.8zM657.7,372.1h1.2v2.5h-1.2zM663.4,372.1h3.8v2.5h-3.8zM671,372.1h1.2v1.2h-1.2zM676.7,372.1h2.5v1.2h-2.5zM659.6,374h2.5v1.2h-2.5zM661.5,374h2.5v2.5h-2.5zM665.3,374h1.2v1.2h-1.2zM667.2,374h1.2v2.5h-1.2zM674.8,374h2.5v2.5h-2.5zM676.7,374h1.2v2.5h-1.2zM648.2,375.9h1.2v1.2h-1.2zM663.4,375.9h3.8v2.5h-3.8zM665.3,375.9h2.5v2.5h-2.5zM678.6,375.9h1.2v1.2h-1.2zM646.3,379.7h1.2v1.2h-1.2zM650.1,379.7h2.5v2.5h-2.5zM657.7,379.7h1.2v1.2h-1.2zM659.6,379.7h2.5v2.5h-2.5zM671,379.7h1.2v1.2h-1.2zM672.9,379.7h2.5v1.2h-2.5zM676.7,379.7h1.2v1.2h-1.2zM646.3,381.6h2.5v2.5h-2.5zM650.1,381.6h2.5v2.5h-2.5zM653.9,381.6h1.2v2.5h-1.2zM657.7,381.6h1.2v1.2h-1.2zM661.5,381.6h3.8v1.2h-3.8zM671,381.6h2.5v1.2h-2.5zM672.9,381.6h3.8v2.5h-3.8zM650.1,383.5h2.5v1.2h-2.5zM653.9,383.5h1.2v1.2h-1.2zM661.5,383.5h3.8v2.5h-3.8zM663.4,383.5h1.2v2.5h-1.2zM665.3,383.5h3.8v2.5h-3.8zM669.1,383.5h2.5v2.5h-2.5zM676.7,383.5h2.5v2.5h-2.5zM646.3,385.4h1.2v2.5h-1.2zM652,385.4h2.5v1.2h-2.5zM657.7,385.4h3.8v1.2h-3.8zM659.6,385.4h3.8v1.2h-3.8zM667.2,385.4h1.2v1.2h-1.2zM652,387.3h1.2v1.2h-1.2zM653.9,387.3h3.8v1.2h-3.8zM657.7,387.3h2.5v1.2h-2.5zM661.5,387.3h2.5v1.2h-2.5zM671,387.3h3.8v1.2h-3.8zM642.5,389.2h3.8v2.5h-3.8zM644.4,389.2h2.5v2.5h-2.5zM661.5,389.2h1.2v2.5h-1.2zM644.4,391.1h2.5v2.5h-2.5zM652,391.1h1.2v1.2h-1.2zM655.8,391.1h1.2v1.2h-1.2zM661.5,391.1h1.2v1.2h-1.2zM671,391.1h2.5v2.5h-2.5zM674.8,391.1h2.5v1.2h-2.5zM642.5,393h2.5v1.2h-2.5zM644.4,393h1.2v1.2h-1.2zM648.2,393h2.5v1.2h-2.5zM665.3,393h3.8v2.5h-3.8zM671,393h2.5v1.2h-2.5zM646.3,394.9h1.2v2.5h-1.2zM661.5,394.9h1.2v1.2h-1.2zM672.9,394.9h1.2v1.2h-1.2zM646.3,396.8h2.5v2.5h-2.5zM648.2,396.8h2.5v1.2h-2.5zM653.9,396.8h2.5v2.5h-2.5zM657.7,396.8h1.2v1.2h-1.2zM661.5,396.8h1.2v2.5h-1.2zM663.4,396.8h1.2v1.2h-1.2zM667.2,396.8h1.2v2.5h-1.2zM642.5,398.7h2.5v1.2h-2.5zM646.3,398.7h2.5v1.2h-2.5zM648.2,398.7h2.5v1.2h-2.5zM665.3,398.7h2.5v1.2h-2.5z"/>
<path fill="#41004b" d="M659.4,351.9h1.2v1.2h-1.2zM661.3,351.9h3.8v1.2h-3.8zM667,353.8h1.2v2.5h-1.2zM668.9,353.8h1.2v1.2h-1.2zM661.3,355.7h1.2v1.2h-1.2zM663.2,355.7h1.2v1.2h-1.2zM668.9,355.7h1.2v2.5h-1.2zM672.7,355.7h3.8v1.2h-3.8zM663.2,357.6h2.5v1.2h-2.5zM665.1,357.6h3.8v1.2h-3.8zM670.8,357.6h1.2v2.5h-1.2zM672.7,357.6h1.2v2.5h-1.2zM663.2,359.5h1.2v1.2h-1.2zM670.8,359.5h2.5v2.5h-2.5zM667,361.4h1.2v2.5h-1.2zM670.8,361.4h3.8v1.2h-3.8zM674.6,361.4h3.8v2.5h-3.8zM668.9,363.3h3.8v1.2h-3.8zM674.6,363.3h2.5v1.2h-2.5zM678.4,363.3h2.5v1.2h-2.5zM668.9,365.2h2.5v2.5h-2.5zM670.8,365.2h2.5v2.5h-2.5zM672.7,365.2h2.5v1.2h-2.5zM676.5,365.2h3.8v2.5h-3.8zM678.4,365.2h1.2v1.2h-1.2zM670.8,367.1h2.5v1.2h-2.5zM672.7,367.1h2.5v1.2h-2.5zM672.7,369h2.5v1.2h-2.5zM680.3,369h2.5v1.2h-2.5zM672.7,370.9h2.5v2.5h-2.5zM682.2,370.9h1.2v2.5h-1.2zM680.3,372.8h2.5v1.2h-2.5zM682.2,372.8h1.2v1.2h-1.2z"/>
<path fill="#130015" d="M635,367.5L642.5,366.2L645,372.5L636.2,373.1Z"/>
<path fill="#770088" d="M649.4,367.5L653.1,366.2L653.8,373.8L650,373.8Z"/>
<path fill="#770088" d="M730.7,413.1h3.8v1.2h-3.8zM732.6,413.1h3.8v1.2h-3.8zM734.5,413.1h2.5v1.2h-2.5zM738.3,413.1h2.5v1.2h-2.5zM728.8,415h2.5v1.2h-2.5zM732.6,415h2.5v1.2h-2.5zM734.5,415h3.8v1.2h-3.8zM738.3,415h2.5v2.5h-2.5zM728.8,416.9h3.8v2.5h-3.8zM726.9,418.8h2.5v2.5h-2.5zM730.7,418.8h1.2v1.2h-1.2zM736.4,418.8h3.8v1.2h-3.8zM726.9,420.7h1.2v1.2h-1.2zM728.8,420.7h2.5v2.5h-2.5zM726.9,424.5h2.5v1.2h-2.5zM728.8,424.5h1.2v1.2h-1.2zM732.6,424.5h3.8v1.2h-3.8zM726.9,426.4h3.8v2.5h-3.8zM728.8,426.4h2.5v2.5h-2.5zM730.7,426.4h2.5v1.2h-2.5zM732.6,426.4h2.5v1.2h-2.5zM728.8,428.3h1.2v2.5h-1.2zM730.7,428.3h3.8v1.2h-3.8z"/>
<path fill="#770088" d="M766.2,303.8L773.8,303.1L775,308.8L768.8,309.4Z"/>
<path fill="#fff" d="M721.9,401.9L732.5,402.5L728.8,405.6L723.8,409.4L721.2,406.2Z"/>
<path fill="#41004b" d="M631.9,247.5h1.2v2.5h-1.2zM631.9,249.4h1.2v1.2h-1.2zM633.8,249.4h2.5v1.2h-2.5zM639.5,249.4h1.2v1.2h-1.2zM643.3,249.4h1.2v2.5h-1.2zM641.4,251.3h3.8v2.5h-3.8zM645.2,251.3h1.2v1.2h-1.2zM631.9,253.2h1.2v2.5h-1.2zM635.7,253.2h1.2v2.5h-1.2zM639.5,253.2h2.5v1.2h-2.5zM641.4,253.2h1.2v2.5h-1.2zM637.6,255.1h2.5v2.5h-2.5zM639.5,255.1h1.2v1.2h-1.2zM650.9,255.1h2.5v2.5h-2.5zM637.6,257h1.2v2.5h-1.2zM641.4,257h3.8v2.5h-3.8zM645.2,257h2.5v2.5h-2.5zM647.1,257h3.8v1.2h-3.8zM650.9,257h3.8v1.2h-3.8zM643.3,258.9h2.5v2.5h-2.5zM649,258.9h1.2v1.2h-1.2zM650.9,258.9h1.2v1.2h-1.2zM658.5,258.9h1.2v2.5h-1.2zM639.5,260.8h3.8v2.5h-3.8zM645.2,260.8h1.2v1.2h-1.2zM650.9,260.8h2.5v1.2h-2.5zM660.4,260.8h2.5v2.5h-2.5zM633.8,262.7h1.2v1.2h-1.2zM639.5,262.7h2.5v1.2h-2.5zM649,262.7h1.2v2.5h-1.2zM652.8,262.7h1.2v1.2h-1.2zM654.7,262.7h3.8v1.2h-3.8zM660.4,262.7h1.2v1.2h-1.2zM643.3,264.6h2.5v1.2h-2.5zM649,264.6h1.2v1.2h-1.2zM650.9,264.6h1.2v1.2h-1.2zM654.7,264.6h2.5v1.2h-2.5zM658.5,264.6h2.5v1.2h-2.5zM660.4,264.6h3.8v1.2h-3.8zM664.2,264.6h1.2v2.5h-1.2zM668,264.6h2.5v1.2h-2.5zM669.9,264.6h2.5v1.2h-2.5zM635.7,266.5h2.5v1.2h-2.5zM656.6,266.5h1.2v1.2h-1.2zM662.3,266.5h2.5v1.2h-2.5zM664.2,266.5h2.5v1.2h-2.5zM666.1,266.5h2.5v1.2h-2.5zM668,266.5h1.2v1.2h-1.2zM669.9,266.5h1.2v2.5h-1.2zM641.4,268.4h1.2v2.5h-1.2zM645.2,268.4h2.5v2.5h-2.5zM647.1,268.4h2.5v1.2h-2.5zM668,268.4h3.8v1.2h-3.8zM669.9,268.4h2.5v2.5h-2.5zM675.6,268.4h2.5v1.2h-2.5zM641.4,270.3h2.5v2.5h-2.5zM645.2,270.3h1.2v1.2h-1.2zM647.1,270.3h2.5v2.5h-2.5zM666.1,270.3h1.2v2.5h-1.2zM669.9,270.3h1.2v2.5h-1.2zM671.8,270.3h3.8v2.5h-3.8zM637.6,272.2h1.2v2.5h-1.2zM639.5,272.2h1.2v1.2h-1.2zM649,272.2h1.2v1.2h-1.2zM656.6,272.2h2.5v1.2h-2.5zM660.4,272.2h2.5v1.2h-2.5zM668,272.2h2.5v1.2h-2.5zM669.9,272.2h2.5v1.2h-2.5zM671.8,272.2h2.5v2.5h-2.5zM639.5,274.1h3.8v2.5h-3.8zM643.3,274.1h2.5v2.5h-2.5zM645.2,274.1h2.5v1.2h-2.5zM650.9,274.1h1.2v1.2h-1.2zM652.8,274.1h1.2v2.5h-1.2zM664.2,274.1h1.2v1.2h-1.2zM654.7,276h2.5v2.5h-2.5zM673.7,276h1.2v1.2h-1.2zM654.7,277.9h2.5v1.2h-2.5zM666.1,277.9h3.8v1.2h-3.8zM673.7,277.9h2.5v1.2h-2.5zM643.3,279.8h1.2v1.2h-1.2zM645.2,279.8h1.2v2.5h-1.2zM652.8,279.8h1.2v1.2h-1.2zM660.4,279.8h2.5v1.2h-2.5zM677.5,279.8h1.2v1.2h-1.2zM654.7,281.7h1.2v1.2h-1.2zM658.5,281.7h1.2v1.2h-1.2zM660.4,281.7h2.5v2.5h-2.5zM666.1,281.7h1.2v2.5h-1.2zM669.9,281.7h2.5v2.5h-2.5zM675.6,281.7h1.2v2.5h-1.2zM647.1,283.6h1.2v2.5h-1.2zM650.9,283.6h1.2v2.5h-1.2zM654.7,283.6h2.5v2.5h-2.5zM656.6,283.6h2.5v2.5h-2.5zM658.5,283.6h2.5v1.2h-2.5zM666.1,283.6h1.2v1.2h-1.2zM668,283.6h2.5v2.5h-2.5zM669.9,283.6h2.5v1.2h-2.5zM675.6,283.6h2.5v2.5h-2.5zM654.7,285.5h2.5v2.5h-2.5zM662.3,285.5h3.8v2.5h-3.8zM677.5,285.5h2.5v2.5h-2.5zM645.2,287.4h2.5v1.2h-2.5zM647.1,287.4h3.8v1.2h-3.8zM652.8,287.4h1.2v1.2h-1.2zM658.5,287.4h1.2v1.2h-1.2zM666.1,287.4h2.5v1.2h-2.5zM660.4,289.3h2.5v2.5h-2.5zM664.2,289.3h3.8v1.2h-3.8zM677.5,291.2h2.5v1.2h-2.5z"/>
<path fill="#130015" d="M631.9,247.5h2.5v1.2h-2.5zM641.4,253.2h1.2v1.2h-1.2zM650.9,258.9h2.5v1.2h-2.5zM637.6,260.8h3.8v1.2h-3.8zM652.8,260.8h2.5v1.2h-2.5zM643.3,262.7h1.2v1.2h-1.2zM639.5,264.6h1.2v2.5h-1.2zM662.3,264.6h3.8v1.2h-3.8zM641.4,266.5h2.5v1.2h-2.5zM643.3,266.5h2.5v1.2h-2.5zM654.7,266.5h1.2v1.2h-1.2zM649,268.4h2.5v2.5h-2.5zM677.5,268.4h1.2v2.5h-1.2zM673.7,270.3h3.8v1.2h-3.8zM677.5,270.3h2.5v2.5h-2.5zM658.5,272.2h2.5v1.2h-2.5zM645.2,274.1h1.2v2.5h-1.2zM649,277.9h2.5v2.5h-2.5zM662.3,277.9h2.5v1.2h-2.5zM647.1,279.8h2.5v2.5h-2.5zM650.9,279.8h2.5v1.2h-2.5zM677.5,279.8h2.5v1.2h-2.5zM639.5,281.7h1.2v1.2h-1.2zM666.1,281.7h2.5v2.5h-2.5zM675.6,281.7h1.2v1.2h-1.2zM643.3,283.6h2.5v1.2h-2.5zM641.4,285.5h2.5v1.2h-2.5zM673.7,285.5h2.5v1.2h-2.5zM671.8,289.3h1.2v1.2h-1.2z"/>
</g>
<g fill="none" stroke="#000" stroke-width="1.25" stroke-linejoin="round">
<path d="M345.4,117.3L341,123.3 336.5,129.4 332.1,135.4 327.7,141.5 323.3,147.5 319,153.6 314.6,159.7 310.3,165.7 305.9,171.8 301.6,178 297.3,184.1 293.1,190.2"/>
<path d="M311.4,89.7L314.2,92.1 317,94.6 319.8,97 322.6,99.3 325.4,101.7 328.3,104 331.1,106.3 334,108.6 336.9,110.9 339.8,113.1 342.7,115.3 345.6,117.5 348.6,119.6 351.5,121.8 354.5,123.9 357.5,126 360.5,128 363.5,130.1 366.5,132.1 369.5,134.1 372.5,136 375.6,138 378.6,139.9 381.7,141.8 384.8,143.7 387.8,145.5 390.9,147.3 394,149.1 397.2,150.9 400.3,152.6 403.4,154.3 406.6,156 409.7,157.7 412.9,159.4 416,161 419.2,162.6 422.4,164.2 425.6,165.7 428.8,167.2 432,168.7 435.2,170.2 438.5,171.7 441.7,173.1 444.9,174.5 448.2,175.9 451.4,177.2 454.7,178.6 458,179.9 461.3,181.2 464.5,182.4 467.8,183.7 471.1,184.9 474.4,186.1 477.7,187.2 481,188.4 484.4,189.5 487.7,190.6 491,191.6 494.4,192.7 497.7,193.7 501.1,194.7 504.4,195.6"/>
<path d="M405.9,155.7L402.6,161.9 399.2,168.2 395.9,174.5 392.6,180.7 389.3,187 386,193.2 382.8,199.5 379.5,205.8 376.3,212 373,218.3 369.8,224.6 366.6,230.9 363.4,237.2 360.3,243.4 357.1,249.7 354,256 350.8,262.3 347.7,268.7 344.6,275 341.5,281.3 338.4,287.6 335.3,293.9"/>
<path d="M457,179.5L454.3,186.3 451.6,193.1 448.9,200 446.2,206.8 443.5,213.6 440.9,220.4 438.3,227.2 435.6,234 433.4,241 431.2,247.9 429,254.8 426.8,261.8 424.7,268.7 422.5,275.6 420.4,282.6 418.4,289.5 416.3,296.5 414.2,303.4 412.2,310.4 410.2,317.3 408.2,324.3"/>
<path d="M215.1,219.9L219,222.8 222.9,225.7 226.8,228.6 230.7,231.5 234.7,234.3 238.6,237.1 242.6,239.9 246.5,242.6 250.5,245.3 254.5,248 258.6,250.6 262.6,253.2 266.6,255.8 270.7,258.3 274.7,260.8 278.8,263.3 282.9,265.7 287,268.1 291.1,270.5 295.2,272.9 299.3,275.2 303.4,277.5 307.6,279.7 311.7,282 315.9,284.1 320.1,286.3 324.2,288.4 328.4,290.5 332.6,292.6 336.8,294.7 341,296.7 345.3,298.6 349.5,300.6 353.7,302.5 358,304.4 362.2,306.3 366.5,308.1 370.7,309.9 375,311.6 379.3,313.4 383.6,315.1 387.9,316.8 392.2,318.4 396.5,320 400.8,321.6 405.1,323.2 409.4,324.7 413.7,326.2 418.1,327.7 422.4,329.1 426.8,330.5 431.1,331.9 435.5,333.2 439.8,334.6 444.2,335.8 448.6,337.1 452.9,338.3 457.3,339.5 461.7,340.7"/>
<path d="M461.7,340.7L463.6,333.5 465.5,326.2 467.5,319 469.4,311.8 471.4,304.6 473.3,297.3 475.3,290.1 480.6,286.8 485.8,283.4 491,280 496.1,276.5 501.2,273 506.2,269.5 511.2,266 516.1,262.4 520.9,258.7 525.7,255 530.5,251.3 535.2,247.6"/>
<path d="M385.3,315.8L382.8,322.2 380.3,328.7 377.8,335.2 375.3,341.7 372.8,348.2 370.3,354.6 367.9,361.1 365.4,367.6 363,374.1 360.5,380.6 358.1,387.1 355.7,393.7 353.3,400.2 350.9,406.7 348.5,413.3 346.2,419.8"/>
<path d="M301.7,340.3L306.2,342.5 310.7,344.6 315.3,346.7 319.8,348.8 324.3,350.8 328.9,352.8 333.4,354.8 338,356.7 342.5,358.6 347.1,360.5 351.7,362.3 356.2,364.1 360.8,365.9 365.4,367.6"/>
<path d="M301.7,340.3L298.7,346.7 295.6,353.1 292.6,359.5 289.5,365.9 286.5,372.3 283.5,378.7 280.5,385.1 277.5,391.6"/>
<path d="M277.5,391.6L282.4,393.8 287.3,396 292.1,398.1 297,400.3 301.9,402.4 306.8,404.4 311.7,406.5 316.6,408.5 321.5,410.4 326.4,412.4 331.4,414.3 336.3,416.2 341.2,418 346.2,419.8 351.1,421.6 356,423.3 361,425 366,426.7"/>
<path d="M366,426.7L363.8,433.3 361.6,439.8 359.4,446.4 357.2,453 355.1,459.6 352.9,466.2 350.8,472.9 348.6,479.5"/>
<path d="M370,355.4L374.9,357.2 379.7,359 384.6,360.8 389.4,362.5 394.3,364.2 399.1,365.8 404,367.4 408.9,369 413.8,370.5 418.6,372 423.5,373.5 428.4,374.9 433.3,376.3 438.2,377.7"/>
<path d="M355.7,393.7L360.5,395.4 365.3,397.2 370.2,398.8 375,400.5 379.8,402.1 384.7,403.7 389.5,405.3 394.4,406.9 399.2,408.4 404.1,409.8 409,411.3 414,415.6 421,416.8 424.9,421.5 427,423.6"/>
<path d="M361.6,439.8L366.8,441.6 372.1,443.3 377.3,444.9 382.6,446.5 387.8,448.1 393.1,449.6 398.3,451.2 403.6,452.6 408.9,454.1 414.2,455.5 419.4,456.9 424.7,458.2 430,459.5"/>
<path d="M274.9,452.4L280.3,454.6 285.7,456.8 291.1,458.9 296.5,461 302,463.1 307.4,465.2 312.8,467.2 318.2,469.1 323.7,471.1 329.1,473 334.6,474.8 340,476.7 345.5,478.5 350.9,480.2 356.4,481.9 361.8,483.6 367.3,485.3 372.8,486.9 378.2,488.5 383.7,490 389.2,491.5 394.7,493 400.2,494.5 405.7,495.9 411.2,497.3 416.7,498.6 422.2,499.9 427.7,501.2"/>
<path d="M297,400.3L294.2,406.8 291.4,413.2 288.7,419.7 285.9,426.2 283.1,432.8 280.4,439.3 277.6,445.8 274.9,452.4"/>
<path d="M338.6,476.2L336.4,482.8 334.1,489.4 331.9,496.1 329.7,502.7 327.4,509.3 325.2,516 323,522.7 320.8,529.3 318.6,536 316.4,542.7 310.7,540.9 304.9,539 299.1,537 293.3,535.1 287.5,533.1 281.7,531 276,529"/>
<path d="M336.4,482.8L341.7,484.6 347,486.3 352.4,488 357.7,489.6 363.1,491.3 368.4,492.8 365.9,501.5 363.4,510.1 360.9,518.7 368.7,524.7 374.4,527.7 380.2,530.7 389.2,537.3 397.9,540.2 404.3,540.6 410.7,541 419.6,546.7"/>
<path d="M443.7,335.7L442.4,342.4 441,349.2 440.2,356.1 439.5,363 439.2,372.9 438.2,377.7 434.3,381.5 436.9,386.4 434.8,394.4 432.6,402.3 430.5,410.2 426.6,419.1 427,423.6 427.7,434.9 427.1,447.5 430,459.5 432.2,468.5 434.1,473.2 432.5,480.1 430.9,487 429.3,494 427.7,500.9 426.1,507.9 425.5,515.5 424.9,523.1 423.1,530.9 421.4,538.8 419.6,546.7 423.8,548.9 422.3,555.8 420.8,562.6 419.4,569.5 417.9,576.4 416.5,583.3 419,590.9 415.2,601.4"/>
<path d="M430.5,410.2L435.5,411.5 440.6,412.8 445.6,414.1 450.6,415.3 455.6,416.5 460.7,417.7 465.7,418.8 470.8,419.9 475.8,420.9 480.9,422"/>
<path d="M427.2,450.6L432.3,451.8 437.4,453 442.5,454.2 447.6,455.3 452.7,456.4 457.8,457.5 463,458.5 468.1,459.5 470.6,463.2"/>
<path d="M426.1,507.9L432.1,509.2 438.2,510.5 444.2,511.8 450.2,513 456.2,514.2 462.2,515.4 468.3,516.5 474.3,517.6 470.7,523.9 478,525.1"/>
<path d="M422.2,556.3L428.7,557.7 435.2,559 441.6,560.2 448.1,561.5 454.6,562.7"/>
<path d="M479.5,378L477.9,385.3 471.2,389.3 470.2,400.3 476.2,411.3 480.9,422 479.9,432.9 485.5,440.9 486.5,446.6 476.5,453 475,458.2 470.6,463.2 468.5,469.4 474.5,483 479.2,486.6 477,493.1 480,500.6 483.1,508 486.4,512.7 481.3,518.8 478,525.1 471.6,536.5 465.1,540.9 457.6,550.7 454.6,562.7 455.7,571.2 451.4,577.4 447,583.6 444.8,588.8 452.1,590.1 459.3,591.4 466.6,592.6 464.9,597.9 467.5,603.8"/>
<path d="M483.9,436.4L489.5,437.5 495.1,438.5 500.7,439.4 506.3,440.4 511.9,441.3"/>
<path d="M513,451.6L511.8,459.6 510.6,467.7 509.4,475.8 508.2,483.8 506.2,492.4 500.5,501.2 499.3,502.4 493.4,512.4 486.4,512.7"/>
<path d="M499.2,503L504.4,504.2 509.7,505.3 516.3,504.1 522.7,504.3 529.2,495.5 535.9,490.9 539.2,491.3 546.9,498.2 552.5,500.5 558.2,502.7 562.6,500.4 568,492.7 577.6,486.6 581.2,474.7 582.1,474.3"/>
<path d="M535.9,490.9L536.7,483.9 537.5,476.9 538.3,470 539.1,463 540,456"/>
<path d="M516.3,452.1L522.2,452.9 528.2,453.7 534.1,454.5 540.1,455.2 546.9,456.3 553.7,457.3"/>
<path d="M581.3,486.6L581.8,479 582.3,471.3 582.8,463.7 583.3,456"/>
<path d="M591.1,453L590.9,456.5 596.4,456.8 601.9,457.1 607.4,457.3 612.9,457.5 618.4,457.6 623.9,457.8 629.4,457.8 634.9,457.9 637.4,460.6 641.4,466.5 637.4,471.3 636.3,475.4 640.9,482.1 637.3,486.1 633.2,487.5"/>
<path d="M581.3,486.6L586.7,487 592.1,487.3 597.6,487.6 603,487.8 608.4,488 613.9,488.2 619.3,488.3 624.7,488.4 630.2,488.5 630.1,497 630,505.5 637.8,505.6"/>
<path d="M630.2,488.5L632.2,487 633.7,487.5"/>
<path d="M641.4,466.5L649.5,471.3"/>
<path d="M469.1,537.4L474.6,538.4 480.2,539.3 485.7,540.2 491.2,541 496.7,541.8 502.2,542.6 507.8,543.4 513.3,544.1 518.8,544.8 524.3,545.4 529.8,546.1 535.4,546.7 542,547.3 548.6,548 556.6,546 564,547.2 571.4,548.5 572.8,552.6 579.6,553.1 586.4,553.4 592.3,560.2 598.3,566.9"/>
<path d="M481.3,518.8L489,520 496.7,521.2 497.1,518.8 503,519.8 508.9,520.8 514.8,521.7 520.7,522.6 526.6,523.5 532.5,524.3 538.4,525.1 544.4,525.8 549.8,526.4 555.2,526.9 560.6,527.4 566,527.9 571.7,528.3 577.4,528.8 583.1,529.2 588.8,529.5 594.5,529.9 600.3,530.2 606,530.5 611.7,530.7 617.4,530.9 623.1,531.1 628.9,531.2"/>
<path d="M535.4,546.7L539.2,541.6 549.6,537.2 555.3,535 562,534.2 566,527.9"/>
<path d="M544.4,525.8L555.6,520.1 563.5,515.3 557.9,505.4 558.2,502.7"/>
<path d="M563.5,515.3L571.8,519.4 581.7,516.6 586.5,507.5 593,505.1 597.4,499.9 603.5,492.1 609.7,493.7 612.2,496.5 616.3,499.3 616.7,506 624.5,511.6"/>
<path d="M592,487.3L591.6,494.3 597.8,491.2 603.5,492.1"/>
<path d="M492.3,541.2L493.2,542.7 491.5,549.3 489.8,556 488.1,562.6 486.4,569.3 484.7,575.9 483,582.6 482.2,590.3 481.3,598.1 480.5,605.8"/>
<path d="M521,545.1L521.3,552.3 521.6,559.5 521.9,566.7 522.2,573.9 523.6,582.3 522.3,591.1 521,599.9 522.8,604.2 529,605.2 535.2,606.2 541.4,607.1 547.6,608 553.8,608.9 555.3,611.9 562.7,607.7"/>
<path d="M491.4,596.2L497.4,597.1 503.5,597.8 509.5,598.6 515.6,599.3 521.6,600"/>
<path d="M491.4,596.2L492.4,606.1"/>
<path d="M548.6,548L545.5,551.8 550.2,555.6 559.2,569.3 564.3,576.5 568.1,589 570.3,590.1"/>
<path d="M600.7,329.3L600.4,333.4 600.2,337.5 599.9,341.5 599.7,345.6 599.5,349.7 599.2,353.7 599,357.8 598.7,361.8 598.5,365.9 598.3,369.9 598,374 597.8,378 597.5,382.1 597.9,386.8 599.3,391 600.7,395.1 604.2,399.3 607.9,400.1 611.5,400.9 615.2,403.4 618.9,405.9 622.5,409.3 627.2,410.8 631.9,411.5 635.2,410.5 638.5,409.5 644.1,409.9 643.7,414.9 641.3,417.6"/>
<path d="M625.9,428.2L630.8,424.9 635.6,419.6 641.3,417.6 644.4,417.6 647.4,417.6 650.5,417.5 653.5,417.5 656.5,417.4 659.6,417.4 662.6,417.3 665.7,417.2 668.7,417.1 671.7,417 672.5,413.6 677.7,413.3 678.1,411.3 681.6,406.4 682.8,401.6 684.4,397.5 686.6,392.6 688.8,387.7 691,382.8 692.8,384.8 694.3,386.3 696.9,385 699.6,383.6 704.5,387 705,392.2 705.5,397.4 706,402.6 709.4,406.4 710.2,412.4 713.4,412.8 715.2,416.7"/>
<path d="M654.2,417.5L653.8,424.2 654.4,429.9 655,435.6 655.3,441.6 655.7,447.7 654.5,452.4 653.4,457.1 653.2,462.2 653,467.2 652.1,471.3"/>
<path d="M671.7,417L671.1,423.7 666.9,429.2 664.7,436 664.1,440.1 663.5,444.1 662.6,447.8"/>
<path d="M655.7,447.7L659.2,447.8 662.6,447.8 665.7,447.8 668.8,447.8 671.9,447.8 675,447.8 677.8,445.4 679.8,445.3"/>
<path d="M653.4,457.1L656.8,457.2 660.2,457.2 663.6,457.2 667,457.1 670.4,457.1 674.5,456.9 674.6,458.5 676.5,461.2 677.4,463.8"/>
<path d="M670.4,457.1L670.5,461.6 670.7,466.1"/>
<path d="M680.6,442.4L677.8,438.2 677.4,433.3 676.9,428.4 676.5,423.5 676,418.1 675.5,412.8"/>
<path d="M730,317L734.4,316.4 738.7,315.7 743.1,315 747.5,314.3 751.9,313.5 756.2,312.7 760.6,311.9 765,311.1 769.3,310.2 773.7,309.3 778,308.3 782.4,307.4 786.7,306.4 788.5,314.1"/>
<path d="M481.6,377L486.3,374.3 490.5,371.8 494.6,369.4 497.8,368.4 501.1,367.4 504.3,366.4 507.5,365.4 510.3,364.8 512.1,360.3 514.9,360.1 517.6,359.9 521.2,355 524.8,355 527.3,356.3 529.8,357.6 532.3,358.9 537.5,360.1 540.3,366.2 543.3,368.3 546.4,370.3 549.5,372.2 550.4,379.8 550.5,386.6 549.8,392 551.7,392.2 547,388 543.8,388 540.6,388.1 537.4,388.1 534.1,389.3 530.8,390.5 527.4,389.1 524.1,387.7 522,383.3 517.7,381.2 514.9,383.5 518.7,379.2 522.5,374.9 518.6,375.7 514.7,376.6 511.1,378.6 507.5,380.5 503.9,381.2 500.3,381.9 496.7,382.5 492.2,381.3 494.5,376.9 490.1,377.4 486.3,377.7 482.4,377.9Z"/>
<path d="M510.7,367.6L518.2,364.4 516.6,365.9Z"/>
<path d="M547.3,401.2L544,398.9 540.8,396.6 537.2,397 533.6,397.4 528.9,400.1 525.7,398.9 522.5,402.9 519.2,406.8 514.3,413.6 517.5,411.3 522.3,405.9 525.3,405 521.5,410.6 518.8,415.7 516.7,420.1 515.4,424.7 513.7,429.2 512,433.8 512,440.2 512.3,445 512.6,449.9 515,453.8 519.2,453 523.9,448.5 526,444.2 528.1,439.8 527.5,433.6 527.5,428.7 527.4,423.8 529.3,418.9 531.2,414.1 534.8,411.2 538.3,408.2 537.5,414 541.8,407 544.7,406.6 543.7,403.5Z"/>
<path d="M547.4,401.5L549.7,403.5 552.6,405.4 555.6,407.3 558.6,412.4 559.3,417.5 558.6,421.5 556.7,423.3 552.5,426.9 552,430.9 556,430.7 561.8,426.3 564.4,429.5 564.9,435.3 565.5,441.1 570,438.1 573.3,431.6 574.5,425.9 577.5,421.8 576.5,416.7 575.5,411.6 579.1,415.2 580,418.7 581.8,421.1 585.1,421.9 588.5,422.6 590.6,422.5 592,419.1 590.8,411.3 587.1,407.2 583.4,403 577.8,402 573.4,399.2 570.5,398.8 567.5,398.4 564.6,398 559.1,396.5 554.1,395.2 552.1,392.3 554,396.6 555.5,399.7 551.6,400 547.7,400.3Z"/>
<path d="M561.9,401.5L568.5,401.1 574.5,402 576.5,406.9 573.6,407.3 569,405.6 563.6,403.7Z"/>
<path d="M565.5,441.1L564.4,445.7 560.3,446.7 560,449.4 558,449.8 557.2,453.2"/>
<path d="M565.5,441.1L564.8,446.4 564,449.7 559.5,450"/>
<path d="M553.7,457.5L557.2,453.2 560.4,453.8 563.6,454.4 563.5,455.5 569.8,451.6 573.5,449.2 577.2,446.8 580.9,447.5 584.5,448.3 588.5,448.9 587.2,445.7 590.3,445.5 593.5,445.3 596.6,445.1 600,445.1 595.3,450 591.5,452.1 587.6,454.3 584,455.7 580.4,457.2 577.3,458.7 574.2,460.3 571,461.8 567.6,461.8 564.3,461.7 560.9,461.6 558,460Z"/>
<path d="M591.5,439L595.9,434.8 601.2,431.9 604.5,431.5 607.8,431.1 610.9,431.6 614,432.2 617.1,432.7 620.1,432.1 624,427.9 626.9,429.6 626.8,432.3 623.8,438.1 618.9,440.6 613,440.4 610.1,439.9 607.2,439.3 604.3,438.7 598.6,439.9 596.8,440.7Z"/>
<path d="M461.7,340.7L463.7,345.5 466.7,346.6 469.7,347.7 472.6,348.8 475.6,349.8 478.1,351.1 480.6,352.4 483.1,353.7 485.6,356 488.2,358.3 490.8,360.7 494.1,360.4 497.4,360.2 500.8,361.6 504.2,363 508.4,365.1 512,364.4 515.6,363.7 519.2,362.9 521.7,365.1 524.3,367.3 526.9,369.4 529.5,371.6 532.1,373.7 534.7,375.9 537.3,378 540,380.1 542.6,382.2 545.3,384.3 548,386.3 550.2,392.7 555.1,398.7 558,402.2 558.8,408.6 560.5,413.4 562.3,418.1 564.2,422.9 566,427.6 565.9,432.1 565.7,436.6 565.6,441.1"/>
<path d="M557.6,451.2L557.5,454.5 561.2,458.5 565,457.1 568.7,455.7 572.5,454.3 576.2,452.8 579.4,452.4 582.5,451.9 585.7,451.4 588.8,451 592.4,449.2 596,447.5 599.5,445.8 598.7,442.1 598.6,439.9 597.5,437.3 602.5,435.1 605.6,435.3 608.6,435.4 611.7,435.5 614.8,435.6 617.9,435.7 621,435.8 624.5,429.6 625.9,428.2"/>
<path d="M496.5,382.6L499.2,384.6 502,386.6 504.8,388.6 507.6,390.6 510.4,392.7 513.2,394.7 516,396.7 517.9,403.2 519.2,406.8"/>
<path d="M525.3,405L530,405.7 528.2,410.4 526.3,415 524.5,419.7 522.6,424.3 520.7,428.9 520.4,433.4 520.1,437.9 519.7,442.5 518,447.3 516.3,452.1"/>
<path d="M461.7,340.7L463,335.7 465.8,337.5 465.3,343"/>
<path d="M715.2,416.7L711.1,419.8 708.4,421.4 705.6,422.9 702.9,425.2 700.4,424 697.9,422.9 697.4,429 695.4,427.8 691.7,431.4 689.4,432.4 687,433.5 684.6,434.5 683.8,437.3 682.4,438.7 680.4,442.5 681.9,448.1 677.8,452.4 681.9,457.5 683.5,459.9 686,459.6 688.5,459.2 686.3,455.7 688.9,457.2 689.1,460.9 685.6,461.7 682.2,463.2 682.3,460.4 679.4,462.4 677.4,463.8 675.4,464.4 674.5,459.9 673.9,465.8 670.1,466.7 667.7,466.7 665,467.1 662.3,467.4 659.6,467.8 656.6,469.2 653.1,471 650.6,474 648.6,475.3 646,478.3 648.6,478.4 648.6,482.1 647.7,488.1 644.4,493.4 641.6,496.3 638.9,499.2 637.8,495.6 634.2,492.8 632.7,490.4 633.2,488.8 632.1,492.2 634.2,497.6 635.2,499.6 637.3,501.2 637.5,507.3 634.6,513 632.4,516.5 630.1,520 627.9,523.5 628.7,517.7 629.3,512.1 625.7,506.9 626.8,503.5 624.7,500.1 625.8,494.8 627.5,490.8 622.7,495.4 623.2,498.5 623.3,503 623.5,507.5 624.3,511 621.3,509.2 618.2,507.4 616.8,502 619.1,505.7 621.4,509.5 625.1,513.2 624.4,517 624.4,521.7 624.3,525.1 620,522.3 624.3,525.7 627.5,526 629.1,531.2 630.4,535.9 631.7,540.7 628.9,544.7 626.4,548 623.9,551.4 620.5,556 616,556.6 612.4,560.1 608.7,563.6 605.1,567.1 601.5,567.7 597.9,568.2 594.3,568.7 591.5,573.4 588.8,578 585.6,579.5 582.3,581 579,583.9 575.7,586.8 570.3,590.1 568.3,593.6 566.3,597.1 563.1,602.3 563,607.1 563,611.9 563.3,615.3 563.7,618.8 565.2,623.6 566.6,628.5 568.2,632.1 569.8,635.6 571.4,639.1 572,642.8 572.6,646.5 573.2,650.2 574.2,654.6 575.3,659 576.3,663.4 575.7,667.7 575.1,671.9 574.4,676.2 572.5,680 570.6,683.8 566.2,684.1 561.8,684.4 560.9,679.7 560,674.9 557,672.3 554.1,669.7 550.7,665.3 551.2,659.1 547.1,656 545.5,652.4 544,648.9 548,644.4 543.5,643.3 544.5,639.3 545.6,635.2 546.6,631.2 542.1,627.4 540.4,623.8 538.6,620.2 535.3,616.8 532.1,613.4 527.8,614.4 524.8,615.2 521.7,616 518.6,616.8 515.5,617.6 512.1,610.6 509.1,609.2 506.1,607.8 503.1,606.3 499,606.2 494.8,606 491.6,606 488.4,606 485.2,606.1 486.1,599.7 484.3,604.3 480.8,603.8 477.9,603 475,602.2 472,602.4 468.9,602.7 466.3,604.3 467.9,609.5 468.5,613.1 469.2,616.6 469.8,620.9 466.1,621.1 463.1,618.5 460.2,615.9 456.9,617.5 452.6,617.2 448.4,616.8 445.8,613.9 443.3,611 438.2,608.7 433,607 429.6,605.4 426.3,603.7 422.9,602 419,601.7 415.1,601.4 410.9,602.5 406.8,603.5 402.7,604.5 399.2,606.4 395.6,608.3 390.9,609.9 386.1,611.6 382.4,613.3 378.7,615.1 375,616.8 371.3,618.5 369.2,622 367,625.5 364.9,629 364.7,632.6 364.6,636.2 364.4,639.7 364.2,643.3 362.3,646.5 360.4,649.7 358.5,652.9 356.7,656.1 354.9,660 353.2,664 351.4,668 349.7,672 348.6,675.5 347.6,679 346.5,682.6 345.5,686.1 344.5,689.7 343.4,693.2 344,697.2 344.6,701.1 345.3,705.1 345.9,709 346.5,713 347.7,716.9 348.9,720.9 350.2,724.8 351.9,728.8 353.7,732.9 355.4,736.9 357.2,741 360.7,748 363.9,750.4 367.1,752.9 370.4,755.3 373.6,757.8 376.9,760.2"/>
<path d="M630.1,536.6L626.6,537.2 623.2,537.8 619.7,538.5 623,538.3 626.3,538.1 629.5,537.9"/>
<path d="M628.4,545.3L624.7,545.5 621,545.7 617.4,545.8 620.6,546.1 623.9,546.4 627.2,546.7"/>
<path d="M623.3,552L620,551.6 616.7,551.2 622.7,552.7"/>
<path d="M648.6,477L652.2,476.6 655.7,476.2 660.3,474.6 664.8,473 670.2,469.9 666.2,468.9 662.7,471.5 658,471.6 652.1,472.6 650.6,474Z"/>
<path d="M390,758.4L395.9,758.2 401.8,758 407.5,758.6 413.3,759.1 418.6,756.6 423.9,754 429.2,751.5 432.8,744.8 434.1,740.2 435.3,735.6 436.6,731 442,728.6 447.3,726.2 452.2,725.8 457,725.4 461.9,725 466.7,724.5 471.5,725.1 476.3,725.7 481,726.3 484.8,733.1 481.3,737.2 477.7,741.3 474.1,745.3 473.5,750.3 472.9,755.2 469.6,760.5 466.3,765.8 462.6,768.2"/>
<path d="M509.3,725.5L516.8,721.6 521.8,718.8 526.8,716 531.8,713.1 537.7,711.8 543.6,710.6 548.8,711.5 554.1,712.4 558.9,710.9 561.4,713.1 565.6,713.8 569.8,714.5 574.1,715.2 580.8,721.1 585.3,721.3 589.8,721.5 594.3,721.7 598,725.6 601.8,729.6 606.3,732.1 610.7,734.7 615,737.1 619.3,739.5 623.6,741.9 630.1,748.2 634.9,749.9 639.7,751.5 644.5,753.1 649.1,754.5 644.7,756.2 640.3,757.8 635.9,759.4 631.3,758.9 626.7,758.4 622.6,758.6 618.4,758.9 614.3,759.1 610.2,759.3 606,759.5 601.9,759.6 609.7,752.8 610.4,747.9 606.5,747.8 602.6,747.7 598.7,747.6 595.1,743.3 591.6,739 588,734.7 583.1,733.8 578.1,732.9 573.2,731.9 567.6,727.4 562.8,726.8 558,726.2 553.6,723.8 549.2,721.4 544.4,716.9 539.1,719.3 533.7,721.7 527.1,722.5 521.6,726.3 514.9,727.8Z"/>
<path d="M659,760.7L663,759.6 666.9,758.5 674.9,761 682.1,759.2 686.3,759.4 690.5,759.6 694.7,759.8 700,760.5 705.3,761.2"/>
<path d="M600.5,686.5L604.1,693.5 603.9,700.4 596.4,697.4 598,689.2Z"/>
<path d="M602.6,661.8L612.2,667.6 613.4,670.3 610.8,675.8 608.4,673 609.7,668.2Z"/>
<path d="M655.5,741.9L662.7,740.4 664,743.8 656.2,744.6Z"/>
<path d="M724.2,429.3L727.2,431.7 730.1,434.1 732.7,431.1 735.3,428.1 737.9,425 740.4,422.7 742.9,420.3 745.4,417.9 747.9,415.6 750.2,414.3 752.5,413.1 754.8,411.8 757.1,410.6 759.5,409.3 761.8,408 763.9,406.6 766.1,405.1 768.3,403.6 770.4,402.1 767.1,399.6 769.5,398.3 771.9,396.9 774.2,395.5 776.5,394.1 778.9,392.7 775.8,389.2 774.4,385.6 773,382.1 771.5,378.5 769.5,381.5 767.4,384.5 765.6,389.2 763.8,394 766,398.4 763.6,398.8 761.3,399.2 758.8,399.4 756.3,399.5 753.7,399.7 750.8,399.4 748,399.2 744.5,398.3 741.1,397.4 738.3,396.2 735.6,395 732.5,389 729,384 730.4,380 731.7,375.9 733,371.9 730.6,373.4 728.2,374.8 725.7,376.2 723.2,377.6 720.8,376.2 718.3,374.7 715.9,373.3 718.5,372.2 721.1,371.1 723.9,371.7 726.1,370.2 728.3,368.7 730.4,367.2 732.6,365.7 734.7,364.2 733.2,359.6 734.7,360.8 731.5,358.5 728.3,356.2 725.8,356.5 723.3,356.9 720.9,357.2 718.4,357.6 715.9,357.9 713.4,358.2 711.3,359.4 709.2,360.5 707.1,361.7 705,362.8 702.9,364.4 700.8,365.9 698.7,367.4 696.6,369 694.4,371.2 692.2,373.4 690,375.5 687.7,377.7 685.7,380.8 683.6,383.8 681.5,386.9 679.4,390 676.4,391.3 673.5,392.7 671.1,394 668.6,395.3 666.2,396.6 663.7,397.9 661.3,399.2 658.3,401.3 655.3,403.3 653.7,407.1 652.2,410.8 649.6,412.2 647,413.5 644.2,415.6 641.3,417.6 638.5,418.6 635.6,419.6 633.2,422.3 630.8,424.9 628.4,426.6 625.9,428.2"/>
<path d="M624,427.5L627,425.6 629.9,423.6 632.3,421.3 634.7,418.9 638,417.6 641.3,416.3 643.7,414.2 646,412.2 648.9,410.2 651.6,408.1 655.3,402 658.3,400.1 661.2,398.2 663.7,396.9 666.1,395.5 668.6,394.1 671,392.7 673.4,391.3 676.5,387.6 679.5,383.9 681.7,380.5 683.9,377.1 686.1,373.8 688.3,371.2 690.4,368.7 692.5,366.1 694.7,363.5 696.7,361 698.8,358.4 701.1,357.7 703.3,357.1 705.5,356.4 708,352.2 710.4,348 712.7,343.7 714.9,343.4 717.1,343.1 719.3,342.8 721.5,342.5 723.6,342.1 725.8,341.8 728,341.5 730.2,341.1 732.4,340.8 734.5,340.4 736.7,340 738.9,339.8 741.1,339.6 743.4,339.4 745.6,339.2 747.8,339 750,338.8 752.3,338.5 754.4,338 756.6,337.5 758.8,337 761,336.5 763.1,335.9 765.3,335.4 767.5,334.8 769.3,332.8 771.1,330.7 772.9,328.6 774.6,326.5 776.6,324.7 778.5,323 780.5,321.2 782.4,319.5 784.3,317.7 786.2,315.9 788.1,314.2 789.9,312.3 791.6,310.5 793.4,308.7 795.2,304.9 797.1,301"/>
<path d="M724.2,429.3L725.1,425.5 726,421.7 726.9,417.9 729.6,415.4 732.4,412.9 735.1,410.4 738.6,407.9 741.4,407.1 744.2,406.3 746.9,405.5 744.1,405.6 741.2,405.8 738.4,405.9 735.9,406.7 733.3,407.5 735.7,403.7 738.1,399.8 735.5,401.9 732.9,403.9 730.4,405.4 728,406.9 725.5,408.3 723.1,409.8 720.8,410.6 718.5,411.5 716.2,412.3 713.9,413.2 715.2,416.7"/>
<path d="M739.2,383.4L742.9,386.6 746.6,389.8 749.6,389.6 752.6,389.3 755.7,389 758.7,388.7 755,395.4 752,394.5 749,393.6 746.2,393.6 743.4,393.7 739.4,392.2 736.3,389.6Z"/>
<path d="M729.7,346.2L732.3,346 734.9,345.9 737.5,345.7 740.1,345.5 742.8,345.3 745.9,347.2 749.1,349.1 752.3,351 755.6,352.8 752,353.2 748.5,353.5 744.9,353.8 741.9,353.2 738.8,352.5 735.7,351.8Z"/>
<path d="M780.4,368.7L780.6,364.6 780.7,360.5 780.8,356.4 783,351.8 785.2,347.2 787.4,340.4 787.7,336.4 788.1,332.3 788.4,328.2 788.7,324.1 789.8,320.4 790.9,316.6 792.6,314.7 794.4,312.8 796.1,310.9 797.8,309 801.6,307.9 800.4,312.7 799,317.4 798.6,321.1 798.1,324.7 797.7,328.3 797.2,331.9 796.7,335.5 798.9,333.9 801,332.2 803.2,330.5 805.9,334 808.6,337.6 810.4,335.9 812.3,334.3 814.2,332.6 816.6,333.1 819,333.6 821.4,334.1 823.9,334.5 826.3,335 825.2,339.2 824,343.4 826.6,342.7 829.2,342 831.8,341.3 831.2,345.7 830.5,350.2 829.8,354.6 832.3,351.4 834.7,348.3 835.6,353 836.4,357.7 837.8,352.4 839.6,355.2 839.6,359.5 839.6,363.9 839.6,368.2 836.6,366.6 833.6,364.9 831.2,366.8 828.8,368.7 828.3,364.5 827.9,360.2 827.4,356 825.4,359.6 823.5,363.1 821.6,366.7 819.6,370.3 816.6,371.1 813.7,371.8 814.6,366.5 815.4,361.2 812.8,362.2 810.2,363.1 807.8,363.6 805.4,364.1 803,364.5 800.6,364.9 798.1,365.4 795.7,365.8 793.4,366.3 791.1,366.9 788.8,367.5 786.5,368 784.2,368.6 781.9,369.1Z"/>
<path d="M525.4,343.4L525.5,340.7 524.8,338.4 523.4,337 521.7,336.7 520,337.6 518.5,339.5 517.7,342 517.6,344.7 518.3,347 519.7,348.4 521.4,348.7 523.2,347.8 524.6,345.9Z"/>
<path d="M668.4,368.6L668,367.6 667.2,366.8 665.9,366.4 664.5,366.4 663.3,366.9 662.4,367.8 662.2,368.9 662.5,369.9 663.4,370.7 664.7,371.1 666.1,371.1 667.3,370.6 668.1,369.7Z"/>
<path d="M652.3,334.3L651.4,333.5 650,333.6 648.4,334.6 646.9,336.3 645.7,338.4 645.2,340.4 645.4,342 646.3,342.8 647.7,342.7 649.3,341.7 650.8,340 652,337.9 652.5,335.9Z"/>
<path d="M597.2,399.6L596.9,399 596,398.5 594.7,398.1 593.3,398 592,398.2 591,398.6 590.7,399.2 591,399.8 591.8,400.3 593.1,400.7 594.6,400.8 595.9,400.6 596.8,400.2Z"/>
<path d="M598,423.9L597.9,422.7 597.5,421.7 596.8,421.2 596.1,421.2 595.3,421.6 594.8,422.5 594.6,423.7 594.7,424.9 595.1,425.8 595.8,426.4 596.5,426.4 597.2,425.9 597.8,425Z"/>
<path d="M570.2,659.7L569.9,658 569,656.6 567.5,655.7 565.9,655.6 564.4,656.3 563.3,657.6 562.8,659.2 563.1,660.9 564,662.3 565.4,663.1 567.1,663.2 568.6,662.6 569.7,661.3Z"/>
<path d="M541.4,730.7L541.1,728.9 540,727.5 538.2,726.6 536.2,726.5 534.3,727.1 533,728.3 532.4,730 532.7,731.7 533.8,733.2 535.6,734.1 537.6,734.2 539.5,733.6 540.9,732.3Z"/>
<path d="M691.7,329.4L691.3,327.4 690.4,325.8 689.4,325 688.2,325.1 687.3,326 686.7,327.7 686.6,329.8 687,331.8 687.9,333.4 688.9,334.3 690.1,334.2 691,333.2 691.6,331.5Z"/>
<path d="M584.2,316.9L586.7,321.2 589.3,325.4 591.4,331 594.8,331.9 598.1,332.8 602.7,327 605.9,329.2"/>
<path d="M550,146.2L546.2,152.5 541.2,155 535,158.8 531.2,163.8 527.5,167.5 521.2,171.2 516.2,177.5 510,183.8 506.2,190 503.8,195 502,201.2 500,207.5 503,211.2 502.5,216.2 510,215 510,241.2 522.5,239.2 527.5,241.2 533.8,248 541.2,255 543.8,261.2"/>
<path d="M523.8,141.2L530,146.2 536.2,151.2 541.2,155"/>
<path d="M488.8,122.5L495,125 502.5,128.8 510,130 507.5,126.2 497.5,123.8Z"/>
<path d="M512.5,136.2L518.8,137.5 523.8,141.2 520,142.5 513.8,138.8Z"/>
<path d="M368.8,112.5L373.8,120 381.2,125 390,129.2 398,127.5 403,121.2 412.5,118.8 421.2,117.5 430,124.5 422.5,123 416.2,120.5 407.5,123.8 400,130"/>
<path d="M389.5,169.5L395,165 403,163 410,166.2 417.5,172.5 426.2,178 417.5,175 410,170.5 401.2,168.8 393.8,172Z"/>
<path d="M380.8,165L383.8,163.2 385.5,167.5 382.5,170.8Z"/>
<path d="M435,197.5L440,195.5 445,197.5 443.8,202.5 447,205 448,208.8 442.5,212.5 440,218.8 433.8,222.5 429.5,223 433.8,218.8 436.2,213.8 438.8,208.8 436.2,203.8Z"/>
<path d="M445.8,162L448.8,160.5 450,166.2 447,168Z"/>
<path d="M457,172L459.2,170.5 460,180 457.5,179.5Z"/>
<path d="M408,198L412.5,196.5 416.8,198.5 415,201.5 410,201.2Z"/>
<path d="M407.5,232L411.2,230.8 415,233 413,236.5 408.8,236Z"/>
<path d="M392.5,201.2L395,203.8 393,208 390.5,211.2 387.5,215.5 385.8,214.2 388,210 390.5,206.2Z"/>
<path d="M456.2,228L462.5,224.5 467.5,221.2 472,220.5 470,225 463.8,227.5 458.8,230Z"/>
<path d="M483.8,268.8L488.8,266.2 492.5,268 488.8,270.5Z"/>
<path d="M481.2,276.2L485,275.5 487.5,279.2 483.8,280Z"/>
<path d="M470,179.5L475,177.5 481.2,178 475,180Z"/>
<path d="M473,138.8L478,137 482.5,138.8 481.2,145 476.2,146.2 472.5,142.5Z"/>
<path d="M478.8,150L482.5,149.5 483.8,156.2 480,158Z"/>
<path d="M492.5,152L497.5,151.2 498.8,157.5 495,159.5Z"/>
<path d="M444.5,112.5L448,112 448.8,116.2 445.5,117Z"/>
<path d="M447,268.8L451.2,267.5 457.5,265 459.5,268.8 457.5,277.5 458.8,287.5 457,297.5 459.5,305 460,311.2 457,317.5 453,317.5 453.8,308.8 451.2,300 448.8,292.5 446.2,285 445,277.5Z"/>
<path d="M430.5,271.2L435,267.5 438.8,268.8 438,277.5 440,285 436.2,291.2 438.8,297.5 441.2,305 442.5,315 438.8,318 437,310 435,302.5 432.5,296.2 433.8,288.8 431.2,280Z"/>
<path d="M438,260.5L442,259.5 444.5,263 440.5,265Z"/>
<path d="M462,335L466.2,331.2 471.2,333.8 473,340 468.8,343 463,341.2Z"/>
<path d="M342.5,320L347.5,322 352.5,323 356.2,322 360,325"/>
<path d="M382.5,328.8L387.5,331.2 392.5,333.8 395,338.8 400,341.2 403,342.5"/>
<path d="M530,149.5L537.5,152.5 545,151.2 548.8,146.2 555,145 560,140 567.5,135 573.8,130 576.2,125 580,122.5 583.8,116.2 586.2,118.8 590,122.5 592.5,117.5 597.5,116.2 605,112.5"/>
<path d="M550,121.2L556.2,126.2 562.5,132.5 558.8,127Z"/>
<path d="M576.2,128.8L581.2,135 583.8,140 590,145 595.5,149.5 601.2,155 606.2,161.2 605,164.5 597.5,161.2 592.5,155 586.2,154.5 581.2,156.2 577.5,161.2 573.8,167 567.5,160.5 565,157.5 570,153.8 574.5,150 575,142.5Z"/>
<path d="M582.5,176.2L587.5,172 595,171.2 595.5,175 590,180 583.8,181.2Z"/>
<path d="M605.5,182.5L608.8,180 611.2,183.8 610,190 606.2,191.2 604.5,187.5Z"/>
<path d="M617.5,167.5L621.2,166.2 623.8,170 620,172Z"/>
<path d="M618.8,180L620,187.5 618.8,192.5 620.5,200 618.8,205 622.5,213.8 617.5,222.5 615,230 618,231.2 623.8,240 627,252.5 625,265 617.5,277.5 607.5,285 603.8,288.8 606.2,300 608.8,312.5 610,320 606.2,329.2"/>
<path d="M618.8,180L625,178.8 635,182.5 640,185 647.5,182.5 652.5,185 657.5,191.2 662.5,193.8 668.8,198.8 675,200 676.2,205 675,212.5 677.5,220 675,227.5 678.8,232.5 685,235 690,240 687.5,232.5 695,230 700,225 703.8,215 707.5,206.2 710,210 715,217.5 716.2,225 722.5,230 727.5,235 732.5,242.5 738.8,250 742.5,260 748.8,267.5 755,270 765,271.2 770,272.5"/>
<path d="M707.5,207.5L706.2,215 710,222.5 708.8,230 716.2,235 717.5,245 722.5,252.5 721.2,260 730,267.5 728.8,277.5 722.5,281.2 716.2,283.8 715,295 722.5,298.8 727.5,292.5 732.5,288.8 730,302.5 728.8,312.5 732.5,316.2"/>
<path d="M653.8,112.5L652.5,120 647.5,130 640,137.5 630,140 622.5,142.5 620,148.8 622.5,153.8 630,155 637.5,150 641.2,153.8 647.5,155 652.5,161.2 660,167.5 666.2,172.5 670,171.2 677.5,176.2 685,180 692.5,182.5 697,185 695,178.8 687.5,173.8 682.5,167.5 677.5,161.2 680,158.8 686.2,163.8 692.5,168.8 700,172.5 703.8,170.5 702.5,163.8 698.8,157.5 692.5,151.2 687.5,145 682.5,137.5 679.5,130 682.5,123.8 690,120 693.8,127.5 697.5,133.8 702.5,140 706.2,137.5 705,130 702.5,123.8 706.2,118.8 712.5,115 715,112.5"/>
<path d="M657.5,141.2L661.2,140 666.2,147.5 662.5,150 658.8,146.2Z"/>
<path d="M758.8,112.5L767.5,120 772.5,127.5 777.5,135 785,142.5 792.5,151.2 800,157.5 807.5,162.5 817.5,167.5 825,163.8 828.8,158.8 835,162.5 840,171.2 847.5,166.2 850,158.8 847.5,150 846.2,140 843.8,130 838.8,122.5 840,113.8"/>
<path d="M740,257.5L747.5,261.2 751.2,270 758.8,270 768.8,270 776.2,274.5 772.5,278.8 765,283.8 755,295 760,288.8 768.8,281.2 777.5,277.5 780,285 786.2,283.8 792.5,291.2 793.8,302.5 797,301.2"/>
<path d="M542.5,258.8L552.5,266.2 560,273.8 570,275 580,277.5 582.5,287.5 579.4,295 581.2,307.5 585,315 587.5,320"/>
<path d="M581.2,306.2L587.5,305 591.2,307.5 591.9,311.2 587.5,311.9 582.5,309.4Z"/>
<path d="M602.5,265L606.2,260 608.8,261.2 605.6,267.5Z"/>
<path d="M604.4,268.1L607.5,262.5"/>
<path d="M336.1,600L336.1,610.3 341.2,622.3 340.4,630.9 346.4,637.8 360.1,643 363.5,644.3"/>
<path d="M336.1,611.2L329.2,612.9 323.2,616.3 324,621.5 318.9,624.1 316.3,625.8 318.9,632.6 319.7,643 323.2,645.5"/>
<path d="M339.5,622.3L341.2,634.4 346.4,641.2 345.5,646.4 337.8,651.5 334.3,653.3 328.3,656.7 329.2,661.9 325.7,667 319.7,670.4 317.2,675.6 319.7,680.8 325.7,684.2 330.9,687.6 337.8,689.3 342.9,691.1"/>
<path d="M337.8,689.3L334.3,693.6 335.2,699.7 331.8,703.1 334.3,708.2 330,711.7 329.2,716.8 334.3,718.6 337.8,714.3 341.2,718.6 339.5,723.7 343.8,727.1 347.2,728"/>
<path d="M314.6,697.9L322.3,698.8 324.9,703.1 330.9,703.1"/>
<path d="M314.6,722L322.3,722.9 324,728 329.2,728.9 333.5,730.6 336.1,735.7 332.6,735.7 328.3,735.7 324.9,730.6"/>
<path d="M342.9,735.7L341.2,742.6 344.6,747.8 348.9,747.8 353.2,752.9 357.5,758.9"/>
<path d="M314.6,744.3L322.3,749.5 329.2,752.9 333.5,750.3 337.8,752.1 344.6,751.2"/>
<path d="M337.8,735.7L340.4,746 338.6,751.2"/>
<path d="M320.6,730.6L318.9,737.5 314.6,742.6"/>
<path d="M322.3,759.8L320.6,752.9 314.6,747.8"/>
<path d="M314.6,640.4L319.7,643"/>
<path d="M314.6,682.5L319.7,680.8"/>
<path d="M441.7,727.1L440,735.7 444.3,742.6 446.9,751.2 446,759.8"/>
<path d="M446.9,749.5L458,744.3 472,735.7"/>
<path d="M343.8,696.2L345.5,701.4 347.2,705.2 346,703.1Z"/>
<path d="M385.9,758.9L394.5,757.7 411.7,758.1 401.3,759.1Z"/>
<path d="M336.2,610L333.8,602.5 327.5,590 323.8,580 315.5,572"/>
<path d="M758.1,113.3L761.1,112.3 760.4,115.6 763.7,114.4 762.6,118.2 765.4,117.4 765.9,119.3 769.4,118.7 767.6,122.1 770.3,122.4 768.3,125.9 772.7,125.2 770.6,128.8 774.8,128.2 773,131.5 776.2,131.5 775,134.5 779.1,133.4 777.6,137.4 781.5,136 779.9,140.1 783,139.5 782.3,142.7 786.3,141.4 785.2,144.5 787.6,144.6 786.5,147.8 790.4,146.5 788.8,150.1 793.2,148.5 791.2,152.8 795.3,150.4 794.1,154.4 797.6,152.7 796.6,156.5 800.3,154.6 798.7,159.5 801.9,157.9 802.6,160.2 805,159.7 804.6,163.6 808.1,161.2 808.4,165 811.3,163.1 811.8,166.4 814.8,164.7 815.3,167.8 816.7,165.9 819.8,168.3 819.4,163.9 822.9,167 822.4,162.3 826.8,165.1 824.2,160.5 829,161.6 829.2,158 829.1,161.7 833.2,158.5 832.2,163.6 836.5,161.7 834.1,165 837.5,164.9 835.5,168 839.8,167.5 838.2,170.3 839.6,170.7 842.8,172.2 841.6,167.1 844.9,168.8 844.8,165.4 848.8,166.7 847.3,164.1 849.8,162.9 847.4,160 852.2,158.1 848.9,157.2 850.7,154.8 847.9,153.7 849.9,151.2 846.3,150.1 849.6,148 844.5,147 848.4,144.8 844.1,143.7 847.6,141.5 845.6,140.2 847.5,137.9 844.8,136.8 845.9,134.8 843.3,133.7 845.9,131.2 843,130.5 843.3,128.2 839.8,128.3 841.7,124.8 837.7,125.4 841.1,122.8 837.7,120.6 840.7,119.2 837.9,117 841.6,115.8 840,113.8"/>
<path d="M679.5,159.4L682,159.5 682.4,162.1 685.1,161.9 685.9,164.2 688.5,164.1 688.1,167.9 692.1,166.1 691.7,170.3 694.7,168.9 695.6,171.9 698.5,170.7 700.4,173.2 701.6,170.9 704.6,170.4 701.4,169.2 705,166.8 701,165.8 704.1,162.8 700.9,162.6 701.5,160.1 698.4,159.9 700,156.3 696.1,157.6 697.7,153.6 694.6,154.2 694.8,151.4 691.2,152.3 692.3,148.9 689.4,148.6 689.7,145.8 687,145.3 688.2,142.3 683.9,143.1 685.7,139.7 682.7,139.5 684.4,136.7 680.4,136.2 682.9,133 678.5,132.6 680.7,130.6 679.2,127.9 682.3,127.5 680.7,124.8 682.8,124.4 683.9,121.9 687.1,123.5 687.9,120.5 689.5,120.2 692.3,121.2 691,124.2 694,125 692.7,128.2 695.6,128.5 693.7,131.8 697.2,131.8 696.6,134.5 699.4,134.8 698.8,137.8 702,137.9 703.1,140.9 703.4,137.3 707.2,137.3 704.5,135.9 707.6,133.4 704.7,132 705.5,129.8 703.4,128.2 705,125.2 701.3,122.8 704.4,122.6 704.2,119.8 706.6,119.4 707.2,116.7 709.6,117.3 710.1,114.5 713.9,116.4 712.3,112.3 715,112.5"/>
<path d="M646.2,156L650.1,155.5 649.1,158.9 651.9,159.2 652.2,161.6 654.9,161.4 654.8,164.6 658,163.8 657.9,167 661,166.2 661,169.4 664.2,168.7 663.7,172.5 665.9,171.5 668.5,173.1 670.8,170 671.1,172.8 673.7,172.2 673.6,175.7 676.5,174.6 676.7,177.8 680,175.8 680.5,179.7 683.5,178.2 684.8,180.5 687.4,179 688.2,182.9 691,180.8 692.2,183 694.3,182.7 694.8,185.4 697,185"/>
<path d="M706.6,206.9L709.4,207.7 708.6,211 711.5,211.2 710.7,213.8 714,213.8 713.5,216.3 716.4,217.3 714.8,219.5 716.9,221 715.3,223.2 716.7,224.5 717,227.3 720.7,225.9 720.5,229.3 723.1,229.4 722.6,232.4 726.6,230.9 725.1,234.9 728.5,234.3 726.5,237.8 730,237.7 728.7,240.7 732.4,240.4 731.9,243 734.3,243.5 734.2,246.2 737.8,245.7 736.9,249 740.2,249.4 737.8,252.3 741.1,252.9 739.2,255.5 741.8,256.5 741.3,258.5 743.2,259.4 742.4,262.6 746,262.2 745.4,265.2 748.7,265 748.2,268.8 751.2,267.4 752.2,271 755.2,268.2 756.9,271.2 759.2,268.9 760.8,272.2 763.3,268.9 764.5,273.1 766.9,270.7 767.8,274.4 770,272.5"/>
<path d="M650,281.5L652,280 656,279.5 659,280.5 657,282.5 653,283Z"/>
</g>
<g fill="none" stroke="#000" stroke-width="1.5">
<path d="M305.9,84.7L308.7,87.2 311.4,89.7 314.2,92.2 317,94.6 319.8,97 322.6,99.4 325.5,101.7 328.3,104 331.2,106.3 334.1,108.6 336.9,110.9 339.8,113.1 342.8,115.3 345.7,117.5 348.6,119.7 351.6,121.8 354.5,123.9 357.5,126 360.5,128.1 363.5,130.1 366.5,132.1 369.5,134.1 372.5,136.1 375.6,138 378.6,139.9 381.7,141.8 384.8,143.7 387.9,145.5 391,147.3 394.1,149.1 397.2,150.9 400.3,152.6 403.4,154.4 406.6,156.1 409.7,157.7 412.9,159.4 416.1,161 419.2,162.6 422.4,164.2 425.6,165.7 428.8,167.2 432,168.7 435.2,170.2 438.5,171.7 441.7,173.1 444.9,174.5 448.2,175.9 451.4,177.2 454.7,178.6 458,179.9 461.3,181.2 464.5,182.4 467.8,183.7 471.1,184.9 474.4,186.1 477.7,187.2 481.1,188.4 484.4,189.5 487.7,190.6 491,191.6 494.4,192.7 497.7,193.7 501.1,194.7 504.4,195.6"/>
<path d="M405.9,155.7L402.6,161.9 399.2,168.2 395.9,174.5 392.6,180.7 389.3,187 386,193.2 382.8,199.5 379.5,205.8 376.3,212 373,218.3 369.8,224.6 366.6,230.9 363.4,237.2 360.3,243.4 357.1,249.7 354,256 350.8,262.3 347.7,268.7 344.6,275 341.5,281.3 338.4,287.6 335.3,293.9"/>
<path d="M345.4,117.3L341,123.3 336.5,129.4 332.1,135.4 327.7,141.5 323.3,147.5 319,153.6 314.6,159.7 310.3,165.7 305.9,171.8 301.6,178 297.3,184.1 293.1,190.2"/>
</g>
<g fill="none" stroke="#000" stroke-width="2.2" stroke-dasharray="2.2 2.2">
<path d="M281.4,711.4L294.6,714.8 307.9,718.1 321.1,721.3 334.3,724.3 347.6,727.2 360.8,730 374,732.6 387.3,735.1 400.5,737.4 413.7,739.7 426.9,741.7 440.1,743.7 453.3,745.6 466.5,747.3 479.7,748.8 492.9,750.3 506.1,751.6 519.3,752.8 532.5,753.9 545.7,754.9 558.8,755.7 572,756.4 585.2,757 598.4,757.4 611.6,757.8 624.7,758 637.9,758 651.1,758 664.3,757.8 677.4,757.5 690.6,757.1 703.8,756.6 717,755.9 730.2,755.1 743.3,754.2 756.5,753.2 769.7,752 782.9,750.7 796.1,749.3 809.3,747.8 822.5,746.1 835.7,744.3 848.9,742.4 862.1,740.3 875.3,738.1 888.5,735.8 901.8,733.4 915,730.8 928.2,728.1 941.4,725.2 954.7,722.3 967.9,719.1 981.2,715.9 994.4,712.5"/>
<path d="M285,562.3L296.7,566.1 308.5,569.8 320.2,573.4 331.9,576.8 343.6,580.1 355.4,583.2 367.1,586.2 378.9,589.1 390.6,591.9 402.4,594.5 414.1,597 425.9,599.3 437.7,601.6 449.4,603.7 461.2,605.6 473,607.5 484.8,609.2 496.6,610.8 508.4,612.2 520.1,613.6 531.9,614.8 543.7,615.8 555.5,616.8 567.3,617.6 579.1,618.3 590.9,618.9 602.7,619.4 614.5,619.7 626.3,619.9 638.1,620 649.9,619.9 661.7,619.8 673.5,619.5 685.3,619.1 697.1,618.5 708.9,617.9 720.7,617.1 732.5,616.2 744.3,615.1 756.1,614 767.9,612.7 779.7,611.2 791.5,609.7 803.3,608 815,606.2 826.8,604.3 838.6,602.2 850.4,600.1 862.1,597.7 873.9,595.3 885.7,592.7 897.4,590 909.2,587.2 920.9,584.2 932.6,581.1 944.4,577.8 956.1,574.5 967.8,571 979.5,567.3 991.2,563.5 1002.9,559.6"/>
<path d="M282,409.1L291.9,413.5 301.9,417.6 311.9,421.7 321.9,425.6 331.9,429.4 341.9,433.1 352,436.6 362.1,440 372.2,443.3 382.3,446.4 392.4,449.5 402.6,452.3 412.7,455.1 422.9,457.7 433.1,460.3 443.3,462.6 453.5,464.9 463.7,467.1 473.9,469.1 484.2,471 494.4,472.7 504.6,474.4 514.9,475.9 525.2,477.3 535.4,478.6 545.7,479.8 556,480.8 566.3,481.7 576.6,482.5 586.9,483.2 597.2,483.8 607.5,484.2 617.8,484.5 628.1,484.7 638.4,484.8 648.7,484.8 659,484.6 669.3,484.3 679.6,483.9 689.9,483.4 700.2,482.8 710.4,482 720.7,481.1 731,480.1 741.3,479 751.6,477.7 761.8,476.4 772.1,474.9 782.3,473.3 792.6,471.5 802.8,469.7 813.1,467.7 823.3,465.6 833.5,463.4 843.7,461 853.9,458.6 864,456 874.2,453.2 884.4,450.4 894.5,447.4 904.6,444.3 914.7,441.1 924.8,437.7 934.9,434.2 944.9,430.6 954.9,426.8 965,423 974.9,419 984.9,414.8 994.9,410.5 1004.8,406.1"/>
<path d="M277.6,245.7L285.5,250.6 293.4,255.3 301.3,259.9 309.3,264.4 317.3,268.8 325.3,273.1 333.4,277.3 341.5,281.3 349.6,285.2 357.8,289 366,292.7 374.3,296.2 382.5,299.7 390.8,303 399.1,306.2 407.5,309.3 415.8,312.3 424.2,315.2 432.6,317.9 441.1,320.6 449.5,323.1 458,325.5 466.5,327.8 475,330 483.5,332.1 492,334.1 500.6,335.9 509.2,337.6 517.7,339.3 526.3,340.8 534.9,342.2 543.5,343.5 552.1,344.6 560.8,345.7 569.4,346.7 578,347.5 586.7,348.3 595.3,348.9 604,349.4 612.6,349.8 621.3,350.1 630,350.3 638.6,350.4 647.3,350.3 655.9,350.2 664.6,349.9 673.3,349.5 681.9,349.1 690.6,348.5 699.2,347.8 707.9,347 716.5,346 725.1,345 733.7,343.9 742.3,342.6 750.9,341.2 759.5,339.8 768.1,338.2 776.7,336.5 785.2,334.7 793.8,332.7 802.3,330.7 810.8,328.5 819.3,326.3 827.8,323.9 836.2,321.4 844.7,318.8 853.1,316.1 861.5,313.2 869.9,310.3 878.2,307.2 886.5,304.1 894.8,300.8 903.1,297.4 911.4,293.8 919.6,290.2 927.8,286.4 935.9,282.5 944,278.6 952.1,274.4 960.2,270.2 968.2,265.9 976.2,261.4 984.1,256.8 992,252.1 999.9,247.3"/>
<path d="M295.2,74.6L300.5,79.7 305.9,84.7 311.4,89.7 316.9,94.5 322.5,99.3 328.2,103.9 333.9,108.5 339.6,112.9 345.4,117.3 351.3,121.6 357.2,125.8 363.1,129.8 369.1,133.8 375.1,137.7 381.2,141.5 387.3,145.2 393.5,148.8 399.7,152.3 405.9,155.7 412.2,159 418.5,162.2 424.8,165.3 431.2,168.4 437.6,171.3 444,174.1 450.5,176.8 457,179.5 463.5,182 470,184.5 476.6,186.8 483.2,189.1 489.8,191.2 496.4,193.3 503.1,195.3 509.7,197.1 516.4,198.9 523.1,200.6 529.9,202.2 536.6,203.7 543.4,205.1 550.1,206.4 556.9,207.6 563.7,208.7 570.5,209.7 577.3,210.6 584.1,211.4 591,212.2 597.8,212.8 604.7,213.3 611.5,213.8 618.3,214.1 625.2,214.4 632.1,214.5 638.9,214.6 645.8,214.6 652.6,214.4 659.5,214.2 666.3,213.9 673.2,213.5 680,213 686.9,212.4 693.7,211.7 700.5,210.9 707.3,210 714.1,209 720.9,207.9 727.7,206.8 734.5,205.5 741.2,204.1 748,202.7 754.7,201.1 761.4,199.5 768.1,197.7 774.8,195.9 781.5,193.9 788.1,191.9 794.7,189.8 801.3,187.5 807.9,185.2 814.4,182.8 821,180.3 827.5,177.7 833.9,175 840.4,172.2 846.8,169.3 853.2,166.3 859.5,163.2 865.8,160 872.1,156.8 878.3,153.4 884.6,149.9 890.7,146.3 896.9,142.7 902.9,138.9 909,135.1 915,131.1 920.9,127.1 926.9,122.9 932.7,118.7 938.5,114.3 944.3,109.9 950,105.4 955.7,100.8 961.3,96 966.8,91.2 972.3,86.3 977.8,81.3 983.1,76.2 988.4,71"/>
<path d="M590.9,71.6L595.7,72.3 600.5,73 605.4,73.5 610.2,74 615,74.4 619.9,74.7 624.7,75 629.5,75.2 634.4,75.3 639.2,75.4 644.1,75.3 648.9,75.2 653.8,75.1 658.6,74.8 663.4,74.5 668.3,74.1 673.1,73.7 677.9,73.1 682.7,72.5 687.6,71.9 692.4,71.1"/>
<path d="M278.3,211.6L286.5,199.7 294.7,187.8 303,176 311.4,164.2 319.8,152.4 328.3,140.7 336.8,129 345.4,117.3 354.1,105.7 362.8,94.1 371.6,82.5"/>
<path d="M276.3,422.1L282,409.1 287.7,396.2 293.5,383.3 299.4,370.4 305.3,357.6 311.2,344.8 317.2,332.1 323.2,319.3 329.2,306.6 335.3,293.9 341.5,281.3 347.7,268.7 354,256 360.3,243.4 366.6,230.9 373,218.3 379.5,205.8 386,193.2 392.6,180.7 399.2,168.2 405.9,155.7 412.7,143.2 419.5,130.7 426.3,118.2 433.2,105.7 440.2,93.2 447.3,80.8"/>
<path d="M291,789.5L294.3,775.1 297.7,760.7 301,746.5 304.4,732.3 307.9,718.1 311.3,704.1 314.8,690.1 318.3,676.1 321.8,662.2 325.4,648.4 329,634.6 332.6,620.9 336.2,607.3 339.9,593.6 343.6,580.1 347.4,566.5 351.1,553.1 354.9,539.6 358.7,526.2 362.6,512.8 366.5,499.5 370.4,486.2 374.3,472.9 378.3,459.7 382.3,446.4 386.3,433.2 390.4,420.1 394.5,406.9 398.6,393.8 402.8,380.6 407,367.5 411.3,354.4 415.6,341.3 419.9,328.3 424.2,315.2 428.6,302.1 433.1,289.1 437.5,276 442,262.9 446.6,249.9 451.2,236.8 455.8,223.7 460.5,210.7 465.2,197.6 470,184.5 474.8,171.4 479.7,158.2 484.6,145.1 489.6,131.9 494.6,118.7 499.7,105.5 504.8,92.3 510,79"/>
<path d="M432.1,800.4L434.1,786.1 436.1,771.9 438.1,757.8 440.1,743.7 442.1,729.7 444.2,715.7 446.3,701.8 448.3,687.9 450.4,674.1 452.6,660.3 454.7,646.6 456.9,632.9 459,619.3 461.2,605.6 463.4,592 465.7,578.5 467.9,565 470.2,551.5 472.4,538 474.7,524.6 477.1,511.1 479.4,497.7 481.8,484.3 484.2,471 486.6,457.6 489,444.3 491.4,430.9 493.9,417.6 496.4,404.3 498.9,390.9 501.4,377.6 504,364.3 506.6,351 509.2,337.6 511.8,324.3 514.4,311 517.1,297.6 519.8,284.2 522.6,270.9 525.3,257.5 528.1,244 530.9,230.6 533.7,217.2 536.6,203.7 539.5,190.2 542.4,176.6 545.4,163.1 548.4,149.4 551.4,135.8 554.5,122.1 557.6,108.4 560.7,94.7 563.9,80.9"/>
<path d="M570,798.7L570.7,784.5 571.3,770.4 572,756.4 572.7,742.4 573.4,728.4 574.1,714.5 574.8,700.7 575.5,686.9 576.2,673.1 576.9,659.3 577.7,645.6 578.4,632 579.1,618.3 579.9,604.7 580.6,591.1 581.4,577.6 582.1,564.1 582.9,550.5 583.7,537 584.5,523.6 585.3,510.1 586.1,496.6 586.9,483.2 587.7,469.8 588.5,456.3 589.3,442.9 590.2,429.5 591,416.1 591.9,402.6 592.7,389.2 593.6,375.8 594.4,362.3 595.3,348.9 596.2,335.4 597.1,321.9 598,308.4 598.9,294.9 599.9,281.4 600.8,267.8 601.8,254.2 602.7,240.6 603.7,227 604.7,213.3 605.6,199.6 606.6,185.9 607.6,172.1 608.7,158.3 609.7,144.4 610.7,130.5 611.8,116.6 612.8,102.6 613.9,88.5 615,74.4"/>
<path d="M705.7,798.9L705.1,784.7 704.4,770.6 703.8,756.6 703.2,742.6 702.5,728.6 701.9,714.7 701.2,700.9 700.5,687.1 699.9,673.3 699.2,659.5 698.5,645.8 697.8,632.2 697.1,618.5 696.4,604.9 695.7,591.3 695,577.8 694.3,564.2 693.6,550.7 692.8,537.2 692.1,523.8 691.4,510.3 690.6,496.8 689.9,483.4 689.1,470 688.3,456.5 687.6,443.1 686.8,429.7 686,416.3 685.2,402.8 684.4,389.4 683.6,376 682.7,362.5 681.9,349.1 681.1,335.6 680.2,322.1 679.4,308.6 678.5,295.1 677.7,281.6 676.8,268 675.9,254.4 675,240.8 674.1,227.2 673.2,213.5 672.2,199.8 671.3,186 670.4,172.2 669.4,158.4 668.4,144.6 667.5,130.7 666.5,116.7 665.5,102.7 664.5,88.6 663.4,74.5"/>
<path d="M843.5,801L841.6,786.7 839.6,772.5 837.7,758.4 835.7,744.3 833.7,730.3 831.7,716.3 829.7,702.4 827.6,688.5 825.6,674.7 823.5,660.9 821.4,647.2 819.3,633.5 817.2,619.9 815,606.2 812.9,592.6 810.7,579.1 808.5,565.6 806.3,552.1 804.1,538.6 801.8,525.1 799.5,511.7 797.2,498.3 794.9,484.9 792.6,471.5 790.2,458.2 787.9,444.8 785.5,431.5 783.1,418.1 780.6,404.8 778.2,391.5 775.7,378.2 773.2,364.8 770.7,351.5 768.1,338.2 765.5,324.8 762.9,311.5 760.3,298.1 757.7,284.7 755,271.4 752.3,257.9 749.6,244.5 746.8,231.1 744,217.6 741.2,204.1 738.4,190.6 735.5,177.1 732.6,163.5 729.7,149.9 726.7,136.2 723.8,122.5 720.7,108.8 717.7,95 714.6,81.2"/>
<path d="M984.6,790.5L981.3,776.1 978,761.7 974.7,747.5 971.3,733.3 967.9,719.1 964.5,705.1 961.1,691.1 957.6,677.1 954.1,663.3 950.6,649.4 947.1,635.7 943.5,622 939.9,608.3 936.3,594.7 932.6,581.1 929,567.6 925.3,554.1 921.5,540.6 917.7,527.2 913.9,513.8 910.1,500.5 906.3,487.2 902.4,473.9 898.4,460.6 894.5,447.4 890.5,434.2 886.5,421 882.4,407.8 878.3,394.7 874.2,381.6 870.1,368.4 865.9,355.3 861.7,342.2 857.4,329.2 853.1,316.1 848.8,303 844.4,289.9 840,276.9 835.5,263.8 831,250.7 826.5,237.6 821.9,224.5 817.3,211.4 812.6,198.3 807.9,185.2 803.1,172.1 798.3,159 793.5,145.8 788.6,132.6 783.6,119.4 778.6,106.2 773.6,92.9 768.5,79.7"/>
<path d="M1000.5,423.5L994.9,410.5 989.2,397.6 983.4,384.7 977.6,371.8 971.8,359 965.9,346.2 960,333.4 954.1,320.6 948.1,307.9 942,295.2 935.9,282.5 929.8,269.9 923.6,257.3 917.3,244.7 911,232.1 904.7,219.5 898.3,206.9 891.8,194.4 885.3,181.8 878.7,169.3 872.1,156.8 865.4,144.2 858.7,131.7 851.9,119.2 845,106.7 838.1,94.2 831.1,81.7"/>
<path d="M999.4,213.2L991.2,201.3 983.1,189.4 974.8,177.5 966.5,165.7 958.2,153.9 949.7,142.1 941.3,130.4 932.7,118.7 924.1,107 915.4,95.4 906.7,83.8 897.9,72.2"/>
<path d="M998.9,81.6L988.4,71"/>
</g>
</g>
<rect x="315" y="111" width="650" height="650" fill="none" stroke="#000" stroke-width="2.2"/>
<text x="641.3" y="39.2" font-size="28.2" text-anchor="middle" textLength="393" lengthAdjust="spacingAndGlyphs" font-weight="bold">MODIS Inversion Strength</text>
<text x="640" y="99.2" font-size="22.6" text-anchor="middle" textLength="292" lengthAdjust="spacingAndGlyphs" font-style="italic">Aqua 20260428 0910 UTC</text>
<text x="307.4" y="274.4" font-size="18.8" text-anchor="end" textLength="41.5" lengthAdjust="spacingAndGlyphs">50°N</text>
<text x="307.4" y="429.6" font-size="18.8" text-anchor="end" textLength="41.5" lengthAdjust="spacingAndGlyphs">40°N</text>
<text x="307.4" y="578.4" font-size="18.8" text-anchor="end" textLength="41.5" lengthAdjust="spacingAndGlyphs">30°N</text>
<text x="307.4" y="727.4" font-size="18.8" text-anchor="end" textLength="41.5" lengthAdjust="spacingAndGlyphs">20°N</text>
<text x="437.3" y="779.7" font-size="18.8" text-anchor="middle" textLength="46.4" lengthAdjust="spacingAndGlyphs">90°W</text>
<text x="571.5" y="779.7" font-size="18.8" text-anchor="middle" textLength="46.4" lengthAdjust="spacingAndGlyphs">80°W</text>
<text x="703.4" y="779.7" font-size="18.8" text-anchor="middle" textLength="46.4" lengthAdjust="spacingAndGlyphs">70°W</text>
<text x="836.6" y="779.7" font-size="18.8" text-anchor="middle" textLength="46.4" lengthAdjust="spacingAndGlyphs">60°W</text>
<text x="640.7" y="811.2" font-size="28.2" text-anchor="middle" textLength="294" lengthAdjust="spacingAndGlyphs">Inversion Strength (C)</text>
<g shape-rendering="crispEdges">
<rect x="314.9" y="825.2" width="13.6" height="25.4" fill="#130015"/>
<rect x="328.2" y="825.2" width="13.6" height="25.4" fill="#41004b"/>
<rect x="341.5" y="825.2" width="13.6" height="25.4" fill="#770088"/>
<rect x="354.7" y="825.2" width="13.6" height="25.4" fill="#7e008f"/>
<rect x="368" y="825.2" width="13.6" height="25.4" fill="#850096"/>
<rect x="381.3" y="825.2" width="13.6" height="25.4" fill="#6d009c"/>
<rect x="394.5" y="825.2" width="13.6" height="25.4" fill="#3800a3"/>
<rect x="407.8" y="825.2" width="13.6" height="25.4" fill="#0000ad"/>
<rect x="421.1" y="825.2" width="13.6" height="25.4" fill="#0000c1"/>
<rect x="434.3" y="825.2" width="13.6" height="25.4" fill="#0000d5"/>
<rect x="447.6" y="825.2" width="13.6" height="25.4" fill="#001cdd"/>
<rect x="460.9" y="825.2" width="13.6" height="25.4" fill="#0054dd"/>
<rect x="474.1" y="825.2" width="13.6" height="25.4" fill="#007add"/>
<rect x="487.4" y="825.2" width="13.6" height="25.4" fill="#0088dd"/>
<rect x="500.7" y="825.2" width="13.6" height="25.4" fill="#0095dd"/>
<rect x="513.9" y="825.2" width="13.6" height="25.4" fill="#009ecf"/>
<rect x="527.2" y="825.2" width="13.6" height="25.4" fill="#00a6b7"/>
<rect x="540.5" y="825.2" width="13.6" height="25.4" fill="#00aaa5"/>
<rect x="553.7" y="825.2" width="13.6" height="25.4" fill="#00aa98"/>
<rect x="567" y="825.2" width="13.6" height="25.4" fill="#00aa8b"/>
<rect x="580.3" y="825.2" width="13.6" height="25.4" fill="#00a353"/>
<rect x="593.5" y="825.2" width="13.6" height="25.4" fill="#009d1d"/>
<rect x="606.8" y="825.2" width="13.6" height="25.4" fill="#009f00"/>
<rect x="620.1" y="825.2" width="13.6" height="25.4" fill="#00ac00"/>
<rect x="633.3" y="825.2" width="13.6" height="25.4" fill="#00bc00"/>
<rect x="646.6" y="825.2" width="13.6" height="25.4" fill="#00ca00"/>
<rect x="659.8" y="825.2" width="13.6" height="25.4" fill="#00d700"/>
<rect x="673.1" y="825.2" width="13.6" height="25.4" fill="#00e400"/>
<rect x="686.4" y="825.2" width="13.6" height="25.4" fill="#00f200"/>
<rect x="699.6" y="825.2" width="13.6" height="25.4" fill="#0fff00"/>
<rect x="712.9" y="825.2" width="13.6" height="25.4" fill="#58ff00"/>
<rect x="726.2" y="825.2" width="13.6" height="25.4" fill="#a1ff00"/>
<rect x="739.4" y="825.2" width="13.6" height="25.4" fill="#c8fb00"/>
<rect x="752.7" y="825.2" width="13.6" height="25.4" fill="#e0f300"/>
<rect x="766" y="825.2" width="13.6" height="25.4" fill="#f0ea00"/>
<rect x="779.2" y="825.2" width="13.6" height="25.4" fill="#f7dd00"/>
<rect x="792.5" y="825.2" width="13.6" height="25.4" fill="#fdcf00"/>
<rect x="805.8" y="825.2" width="13.6" height="25.4" fill="#ffbd00"/>
<rect x="819" y="825.2" width="13.6" height="25.4" fill="#ffa500"/>
<rect x="832.3" y="825.2" width="13.6" height="25.4" fill="#ff8100"/>
<rect x="845.6" y="825.2" width="13.6" height="25.4" fill="#ff4500"/>
<rect x="858.8" y="825.2" width="13.6" height="25.4" fill="#ff0900"/>
<rect x="872.1" y="825.2" width="13.6" height="25.4" fill="#f10000"/>
<rect x="885.4" y="825.2" width="13.6" height="25.4" fill="#e40000"/>
<rect x="898.6" y="825.2" width="13.6" height="25.4" fill="#da0000"/>
<rect x="911.9" y="825.2" width="13.6" height="25.4" fill="#d30000"/>
<rect x="925.2" y="825.2" width="13.6" height="25.4" fill="#cc0000"/>
<rect x="938.4" y="825.2" width="13.6" height="25.4" fill="#cc5c5c"/>
<rect x="951.7" y="825.2" width="13.6" height="25.4" fill="#ccacac"/>
</g>
<path d="M381.3,825.2 v8.9 M381.3,850.6 v-8.9" stroke="#000" stroke-width="1.1" fill="none"/>
<path d="M447.7,825.2 v8.9 M447.7,850.6 v-8.9" stroke="#000" stroke-width="1.1" fill="none"/>
<path d="M514,825.2 v8.9 M514,850.6 v-8.9" stroke="#000" stroke-width="1.1" fill="none"/>
<path d="M580.3,825.2 v8.9 M580.3,850.6 v-8.9" stroke="#000" stroke-width="1.1" fill="none"/>
<path d="M646.6,825.2 v8.9 M646.6,850.6 v-8.9" stroke="#000" stroke-width="1.1" fill="none"/>
<path d="M713,825.2 v8.9 M713,850.6 v-8.9" stroke="#000" stroke-width="1.1" fill="none"/>
<path d="M779.3,825.2 v8.9 M779.3,850.6 v-8.9" stroke="#000" stroke-width="1.1" fill="none"/>
<path d="M845.6,825.2 v8.9 M845.6,850.6 v-8.9" stroke="#000" stroke-width="1.1" fill="none"/>
<path d="M911.9,825.2 v8.9 M911.9,850.6 v-8.9" stroke="#000" stroke-width="1.1" fill="none"/>
<rect x="315" y="825.2" width="650" height="25.4" fill="none" stroke="#000" stroke-width="2.2"/>
<text x="319.2" y="875.8" font-size="23" text-anchor="middle" textLength="12.2" lengthAdjust="spacingAndGlyphs">0</text>
<text x="381" y="875.8" font-size="23" text-anchor="middle" textLength="25.6" lengthAdjust="spacingAndGlyphs">10</text>
<text x="447.4" y="875.8" font-size="23" text-anchor="middle" textLength="25.6" lengthAdjust="spacingAndGlyphs">20</text>
<text x="513.7" y="875.8" font-size="23" text-anchor="middle" textLength="25.6" lengthAdjust="spacingAndGlyphs">30</text>
<text x="580" y="875.8" font-size="23" text-anchor="middle" textLength="25.6" lengthAdjust="spacingAndGlyphs">40</text>
<text x="646.3" y="875.8" font-size="23" text-anchor="middle" textLength="25.6" lengthAdjust="spacingAndGlyphs">50</text>
<text x="712.7" y="875.8" font-size="23" text-anchor="middle" textLength="25.6" lengthAdjust="spacingAndGlyphs">60</text>
<text x="779" y="875.8" font-size="23" text-anchor="middle" textLength="25.6" lengthAdjust="spacingAndGlyphs">70</text>
<text x="845.3" y="875.8" font-size="23" text-anchor="middle" textLength="25.6" lengthAdjust="spacingAndGlyphs">80</text>
<text x="911.6" y="875.8" font-size="23" text-anchor="middle" textLength="25.6" lengthAdjust="spacingAndGlyphs">90</text>
</svg></body></html>
